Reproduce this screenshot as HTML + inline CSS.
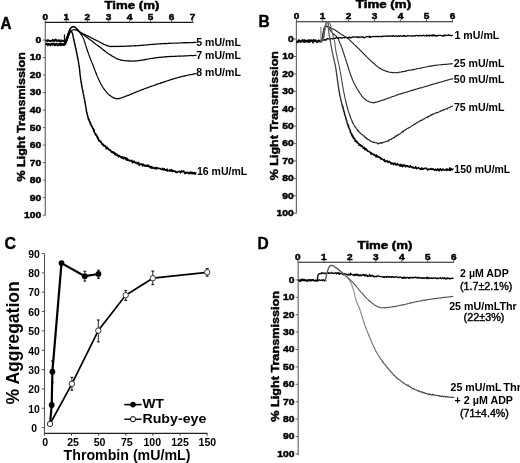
<!DOCTYPE html>
<html><head><meta charset="utf-8"><style>
html,body{margin:0;padding:0;background:#fff;width:520px;height:463px;overflow:hidden}
svg{filter:blur(0.35px)}
text{font-family:"Liberation Sans", sans-serif}
</style></head><body>
<svg width="520" height="463" viewBox="0 0 520 463" style="display:block">
<defs><linearGradient id="gDTA" gradientUnits="userSpaceOnUse" x1="0" y1="300" x2="0" y2="390"><stop offset="0" stop-color="#8c8c8c"/><stop offset="1" stop-color="#4a4a4a"/></linearGradient><linearGradient id="gB75" gradientUnits="userSpaceOnUse" x1="0" y1="30" x2="0" y2="130"><stop offset="0" stop-color="#666"/><stop offset="1" stop-color="#222"/></linearGradient><linearGradient id="gB150" gradientUnits="userSpaceOnUse" x1="0" y1="30" x2="0" y2="140"><stop offset="0" stop-color="#666"/><stop offset="1" stop-color="#000"/></linearGradient></defs>
<rect width="520" height="463" fill="#fff"/>
<g font-family="Liberation Sans, sans-serif">
<text x="0.5" y="28.7" font-size="15.6" font-weight="bold" text-anchor="start" fill="#000" stroke="#000" stroke-width="0.4" textLength="11" lengthAdjust="spacingAndGlyphs">A</text>
<line x1="44.8" y1="22.4" x2="193.3" y2="22.4" stroke="#1a1a1a" stroke-width="1.1"/>
<line x1="45.3" y1="20.4" x2="45.3" y2="22.4" stroke="#444" stroke-width="0.9"/>
<text x="45.3" y="19.5" font-size="8.4" font-weight="bold" text-anchor="middle" fill="#000" stroke="#000" stroke-width="0.45" textLength="5.6" lengthAdjust="spacingAndGlyphs">0</text>
<line x1="66.35" y1="20.4" x2="66.35" y2="22.4" stroke="#444" stroke-width="0.9"/>
<text x="66.35" y="19.5" font-size="8.4" font-weight="bold" text-anchor="middle" fill="#000" stroke="#000" stroke-width="0.45" textLength="5.6" lengthAdjust="spacingAndGlyphs">1</text>
<line x1="87.4" y1="20.4" x2="87.4" y2="22.4" stroke="#444" stroke-width="0.9"/>
<text x="87.4" y="19.5" font-size="8.4" font-weight="bold" text-anchor="middle" fill="#000" stroke="#000" stroke-width="0.45" textLength="5.6" lengthAdjust="spacingAndGlyphs">2</text>
<line x1="108.45" y1="20.4" x2="108.45" y2="22.4" stroke="#444" stroke-width="0.9"/>
<text x="108.45" y="19.5" font-size="8.4" font-weight="bold" text-anchor="middle" fill="#000" stroke="#000" stroke-width="0.45" textLength="5.6" lengthAdjust="spacingAndGlyphs">3</text>
<line x1="129.5" y1="20.4" x2="129.5" y2="22.4" stroke="#444" stroke-width="0.9"/>
<text x="129.5" y="19.5" font-size="8.4" font-weight="bold" text-anchor="middle" fill="#000" stroke="#000" stroke-width="0.45" textLength="5.6" lengthAdjust="spacingAndGlyphs">4</text>
<line x1="150.55" y1="20.4" x2="150.55" y2="22.4" stroke="#444" stroke-width="0.9"/>
<text x="150.55" y="19.5" font-size="8.4" font-weight="bold" text-anchor="middle" fill="#000" stroke="#000" stroke-width="0.45" textLength="5.6" lengthAdjust="spacingAndGlyphs">5</text>
<line x1="171.6" y1="20.4" x2="171.6" y2="22.4" stroke="#444" stroke-width="0.9"/>
<text x="171.6" y="19.5" font-size="8.4" font-weight="bold" text-anchor="middle" fill="#000" stroke="#000" stroke-width="0.45" textLength="5.6" lengthAdjust="spacingAndGlyphs">6</text>
<line x1="192.65" y1="20.4" x2="192.65" y2="22.4" stroke="#444" stroke-width="0.9"/>
<text x="192.65" y="19.5" font-size="8.4" font-weight="bold" text-anchor="middle" fill="#000" stroke="#000" stroke-width="0.45" textLength="5.6" lengthAdjust="spacingAndGlyphs">7</text>
<line x1="45.3" y1="22.4" x2="45.3" y2="215.6" stroke="#6a6a6a" stroke-width="1.2"/>
<line x1="42.7" y1="40" x2="45.3" y2="40" stroke="#6a6a6a" stroke-width="1"/>
<text x="41.2" y="42.9" font-size="8.5" font-weight="bold" text-anchor="end" fill="#000" stroke="#000" stroke-width="0.45" textLength="5.75" lengthAdjust="spacingAndGlyphs">0</text>
<line x1="42.7" y1="57.52" x2="45.3" y2="57.52" stroke="#6a6a6a" stroke-width="1"/>
<text x="41.2" y="60.42" font-size="8.5" font-weight="bold" text-anchor="end" fill="#000" stroke="#000" stroke-width="0.45" textLength="11.5" lengthAdjust="spacingAndGlyphs">10</text>
<line x1="42.7" y1="75.04" x2="45.3" y2="75.04" stroke="#6a6a6a" stroke-width="1"/>
<text x="41.2" y="77.94" font-size="8.5" font-weight="bold" text-anchor="end" fill="#000" stroke="#000" stroke-width="0.45" textLength="11.5" lengthAdjust="spacingAndGlyphs">20</text>
<line x1="42.7" y1="92.56" x2="45.3" y2="92.56" stroke="#6a6a6a" stroke-width="1"/>
<text x="41.2" y="95.46" font-size="8.5" font-weight="bold" text-anchor="end" fill="#000" stroke="#000" stroke-width="0.45" textLength="11.5" lengthAdjust="spacingAndGlyphs">30</text>
<line x1="42.7" y1="110.08" x2="45.3" y2="110.08" stroke="#6a6a6a" stroke-width="1"/>
<text x="41.2" y="112.98" font-size="8.5" font-weight="bold" text-anchor="end" fill="#000" stroke="#000" stroke-width="0.45" textLength="11.5" lengthAdjust="spacingAndGlyphs">40</text>
<line x1="42.7" y1="127.6" x2="45.3" y2="127.6" stroke="#6a6a6a" stroke-width="1"/>
<text x="41.2" y="130.5" font-size="8.5" font-weight="bold" text-anchor="end" fill="#000" stroke="#000" stroke-width="0.45" textLength="11.5" lengthAdjust="spacingAndGlyphs">50</text>
<line x1="42.7" y1="145.12" x2="45.3" y2="145.12" stroke="#6a6a6a" stroke-width="1"/>
<text x="41.2" y="148.02" font-size="8.5" font-weight="bold" text-anchor="end" fill="#000" stroke="#000" stroke-width="0.45" textLength="11.5" lengthAdjust="spacingAndGlyphs">60</text>
<line x1="42.7" y1="162.64" x2="45.3" y2="162.64" stroke="#6a6a6a" stroke-width="1"/>
<text x="41.2" y="165.54" font-size="8.5" font-weight="bold" text-anchor="end" fill="#000" stroke="#000" stroke-width="0.45" textLength="11.5" lengthAdjust="spacingAndGlyphs">70</text>
<line x1="42.7" y1="180.16" x2="45.3" y2="180.16" stroke="#6a6a6a" stroke-width="1"/>
<text x="41.2" y="183.06" font-size="8.5" font-weight="bold" text-anchor="end" fill="#000" stroke="#000" stroke-width="0.45" textLength="11.5" lengthAdjust="spacingAndGlyphs">80</text>
<line x1="42.7" y1="197.68" x2="45.3" y2="197.68" stroke="#6a6a6a" stroke-width="1"/>
<text x="41.2" y="200.58" font-size="8.5" font-weight="bold" text-anchor="end" fill="#000" stroke="#000" stroke-width="0.45" textLength="11.5" lengthAdjust="spacingAndGlyphs">90</text>
<line x1="42.7" y1="215.2" x2="45.3" y2="215.2" stroke="#6a6a6a" stroke-width="1"/>
<text x="41.2" y="218.1" font-size="8.5" font-weight="bold" text-anchor="end" fill="#000" stroke="#000" stroke-width="0.45" textLength="17.25" lengthAdjust="spacingAndGlyphs">100</text>
<text x="104.5" y="8.8" font-size="10.1" font-weight="bold" text-anchor="start" fill="#000" stroke="#000" stroke-width="0.45" textLength="54.8" lengthAdjust="spacingAndGlyphs">Time (m)</text>
<text x="24.6" y="181.6" font-size="11" font-weight="bold" text-anchor="start" fill="#000" stroke="#000" stroke-width="0.45" textLength="129.4" lengthAdjust="spacingAndGlyphs" transform="rotate(-90 24.6 181.6)">% Light Transmission</text>
<polyline points="45.6,40.16 46.2,40.58 46.8,40.18 47.4,40.13 48,39.79 48.6,40.18 49.2,40.91 49.8,40.53 50.4,40.87 51,40.44 51.6,40.52 52.2,40.4 52.8,39.38 53.4,40.77 54,40.58 54.6,40.57 55.2,39.37 55.8,39.34 56.4,39.81 57,40.04 57.6,40.47 58.2,40.27 58.8,40.59 59.4,39.95 60,40.47 60.6,40.52 61.2,39.94 61.8,41.24 62.4,40.61 63,40.96 63.6,39.96" fill="none" stroke="#000" stroke-width="1.3" stroke-linejoin="round"/>
<polyline points="45.6,40.59 46.2,40.81 46.8,40.94 47.4,41.35 48,41.14 48.6,40.75 49.2,40.47 49.8,40.71 50.4,41.67 51,40.56 51.6,41.13 52.2,41.23 52.8,40.18 53.4,41.03 54,41.72 54.6,39.89 55.2,40.82 55.8,40.94 56.4,40.55 57,41.27 57.6,40.97 58.2,40.19 58.8,41.46 59.4,41.37 60,41.52 60.6,41.79 61.2,41.2 61.8,41.07 62.4,40.29 63,41.34 63.6,40.66" fill="none" stroke="#000" stroke-width="1.2" stroke-linejoin="round"/>
<polyline points="45.6,44.53 46.2,44.04 46.8,44.22 47.4,44.48 48,45.57 48.6,43.58 49.2,43.93 49.8,44.94 50.4,45.67 51,45.15 51.6,43.66 52.2,43.29 52.8,45.01 53.4,44.36 54,44.13 54.6,45.39 55.2,45.46 55.8,44.89 56.4,44.95 57,45.06 57.6,45.76 58.2,45.17 58.8,45.11 59.4,45.13 60,43.86 60.6,45.57 61.2,45.37 61.8,45.12 62.4,43.62 63,44.42 63.6,45.31 64.2,43.71" fill="none" stroke="#000" stroke-width="1.4" stroke-linejoin="round"/>
<polyline points="45.6,43.79 46.2,44.51 46.8,43.11 47.4,44.87 48,44.23 48.6,43.81 49.2,44.09 49.8,44.29 50.4,43.97 51,44.59 51.6,43.5 52.2,43.65 52.8,44.53 53.4,43.92 54,43.37 54.6,44.47 55.2,44.78 55.8,43.63 56.4,43.07 57,43.82 57.6,43.81 58.2,43.72 58.8,44.74 59.4,43.28 60,44.66 60.6,43.14 61.2,43.43 61.8,44.28 62.4,44.58 63,44.42 63.6,44.11 64.2,43.99" fill="none" stroke="#000" stroke-width="1.3" stroke-linejoin="round"/>
<line x1="64.5" y1="45.5" x2="64.5" y2="34.4" stroke="#111" stroke-width="1.3"/>
<polyline points="63.6,41.02 64.22,41.59 64.8,41.78 65.08,41.6 65.33,41.19 65.56,40.57 65.8,40.08 66,39.63 66.2,39.31 66.4,38.65 66.6,38.06 66.8,37.54 67,37.04 67.2,36.59 67.38,35.97 67.55,35.53 67.72,35.14 67.89,34.16 68.06,33.76 68.24,33.35 68.42,32.84 68.61,32.31 68.8,31.76 69.02,31.33 69.25,30.76 69.49,30.15 69.73,29.94 69.98,29.26 70.23,28.73 70.5,28.39 70.86,27.94 71.24,27.57 71.62,26.99 72,26.95 72.54,26.83 73.1,26.48 73.79,26.65 74.5,27 74.93,27.25 75.35,27.67 75.78,27.74 76.2,28.26 76.66,28.68 77.11,29.2 77.57,29.68 78,29.73 78.35,30.5 78.67,30.64 79.02,31.25 79.5,31.45 79.81,31.84 80.15,32.17 80.52,32.27 80.93,32.54 81.36,32.85 81.82,33.03 82.3,33.26 82.8,33.68 83.31,33.89 83.83,34.02 84.36,34.59 84.9,34.47 85.43,34.94 85.97,35.1 86.5,35.41 86.91,35.68 87.33,35.85 87.76,36.11 88.19,36.12 88.64,36.35 89.09,36.8 89.55,36.87 90.01,37.1 90.48,37.29 90.95,37.8 91.43,37.99 91.91,38.3 92.39,38.3 92.87,38.64 93.36,38.77 93.84,39.2 94.32,39.52 94.81,39.51 95.29,39.99 95.77,40.17 96.24,40.28 96.71,40.33 97.18,40.9 97.64,40.97 98.1,41.14 98.58,41.48 99.06,41.72 99.53,42.07 100,42.07 100.46,42.54 100.93,42.82 101.39,43.07 101.85,43.16 102.31,43.35 102.77,43.77 103.23,43.93 103.69,44.16 104.15,44.52 104.62,44.58 105.09,44.59 105.56,44.99 106.04,45.03 106.52,45.49 107,45.61 107.5,45.67 107.99,45.87 108.5,46.08 108.97,46.11 109.45,46.32 109.94,46.26 110.43,46.44 110.92,46.53 111.41,46.59 111.91,46.39 112.41,46.57 112.92,46.31 113.43,46.4 113.94,46.31 114.45,46.61 114.96,46.37 115.48,46.48 116,46.45 116.51,46.45 117.03,46.37 117.56,46.43 118.08,46.57 118.6,46.37 119.12,46.4 119.64,46.43 120.16,46.3 120.68,46.18 121.2,46.24 121.7,46.4 122.19,46.13 122.69,46.23 123.18,46.38 123.66,46.35 124.15,46.26 124.64,46.33 125.12,46.26 125.61,46.11 126.09,46.06 126.58,46.13 127.07,46.27 127.56,46.11 128.06,46.05 128.56,46.05 129.06,45.95 129.57,46.07 130.08,45.94 130.6,46.07 131.12,45.77 131.65,46.02 132.19,45.89 132.73,45.73 133.29,45.97 133.85,45.84 134.42,45.61 135,45.71 135.43,45.8 135.86,45.7 136.3,45.8 136.74,45.76 137.18,45.72 137.63,45.66 138.08,45.73 138.54,45.62 138.99,45.57 139.46,45.28 139.92,45.54 140.39,45.54 140.86,45.34 141.34,45.28 141.82,45.48 142.3,45.07 142.78,45.25 143.27,45.4 143.76,45.02 144.25,45.14 144.75,45.22 145.24,44.97 145.75,44.99 146.25,44.98 146.75,44.76 147.26,44.79 147.77,44.79 148.29,44.79 148.8,44.66 149.32,44.6 149.84,44.47 150.36,44.49 150.88,44.57 151.41,44.45 151.93,44.31 152.46,44.26 152.99,44.57 153.52,44.37 154.05,44.28 154.59,43.92 155.13,44.2 155.66,44.14 156.2,44.22 156.74,44.06 157.28,43.97 157.82,43.99 158.37,43.71 158.91,43.97 159.45,43.87 160,43.73 160.46,43.91 160.91,43.93 161.37,43.58 161.84,43.63 162.3,43.7 162.77,43.66 163.24,43.58 163.71,43.5 164.19,43.79 164.66,43.65 165.14,43.41 165.62,43.37 166.1,43.65 166.58,43.56 167.07,43.62 167.56,43.5 168.05,43.31 168.54,43.4 169.03,43.14 169.52,43.26 170.02,43.31 170.52,43.34 171.01,43.2 171.51,43.24 172.01,43.28 172.51,43.25 173.02,43.26 173.52,43.2 174.03,43.13 174.53,43.22 175.04,43.13 175.55,43.02 176.06,43.02 176.57,43.07 177.08,43.04 177.59,43.05 178.1,43.01 178.61,43.01 179.13,42.97 179.64,42.84 180.15,42.99 180.67,43.03 181.18,42.95 181.7,42.88 182.21,42.92 182.73,42.76 183.24,42.65 183.76,42.83 184.27,42.72 184.79,42.87 185.3,42.67 185.82,42.5 186.33,42.64 186.85,42.88 187.36,42.67 187.87,42.55 188.39,42.6 188.9,42.71 189.41,42.69 189.92,42.64 190.43,42.75 190.95,42.66 191.46,42.57 191.96,42.61 192.47,42.7 192.98,42.61 193.49,42.6 193.99,42.37 194.49,42.44 195,42.51 195.5,42.39 196,42.51" fill="none" stroke="#000" stroke-width="1.2" stroke-linejoin="round" stroke-linecap="round"/>
<polyline points="63.6,44.46 64.21,44.68 64.8,44.58 65.12,44.58 65.4,43.99 65.67,43.27 65.93,42.66 66.2,42.26 66.38,41.54 66.56,41.21 66.74,40.73 66.92,40.13 67.1,39.48 67.29,39.09 67.47,38.57 67.65,38.11 67.83,37.56 68.02,36.98 68.2,36.59 68.4,36.05 68.59,35.51 68.79,34.99 68.98,34.46 69.17,34.07 69.37,33.43 69.58,33.03 69.78,32.68 70,32.15 70.35,31.71 70.69,31.07 71.07,30.79 71.5,30.56 72.02,30.26 72.61,29.96 73.21,29.77 73.8,29.56 74.31,29.88 74.81,29.81 75.31,29.98 75.8,29.91 76.29,30.14 76.76,30.17 77.24,30.65 77.7,30.89 78.13,30.84 78.54,31.27 78.98,31.61 79.5,31.72 79.79,31.92 80.11,32.22 80.44,32.5 80.8,32.68 81.18,33.1 81.57,33.41 81.98,33.75 82.4,34.08 82.83,34.48 83.27,34.78 83.72,34.87 84.18,35.3 84.64,35.59 85.1,35.94 85.57,36.39 86.04,36.75 86.5,37.15 86.87,37.21 87.24,37.53 87.62,37.93 88.01,38.21 88.4,38.49 88.79,38.81 89.2,39.04 89.6,39.49 90.02,39.77 90.43,40.03 90.85,40.29 91.27,40.66 91.7,40.72 92.12,41.22 92.55,41.64 92.98,41.81 93.41,42.3 93.84,42.62 94.27,42.79 94.7,43.23 95.14,43.55 95.56,43.95 95.99,44.28 96.42,44.54 96.84,44.77 97.27,45.16 97.68,45.48 98.1,45.87 98.51,46.14 98.92,46.35 99.34,46.6 99.75,47.02 100.17,47.3 100.58,47.59 101,48.01 101.41,48.3 101.83,48.68 102.24,49.05 102.66,49.28 103.07,49.88 103.49,49.94 103.9,50.4 104.32,50.62 104.73,51.04 105.14,51 105.55,51.47 105.96,51.88 106.37,52.22 106.78,52.69 107.19,52.79 107.59,53.17 108,53.4 108.4,53.7 108.8,53.93 109.2,54.13 109.6,54.45 110.07,54.6 110.54,55.12 111.01,55.2 111.48,55.62 111.94,56.1 112.4,56.15 112.86,56.46 113.32,56.85 113.78,57 114.24,57.18 114.7,57.54 115.15,57.82 115.61,58.08 116.06,58.16 116.52,58.63 116.97,58.83 117.43,58.87 117.89,59.08 118.34,59.19 118.8,59.54 119.31,59.5 119.81,59.79 120.32,59.81 120.83,59.91 121.33,60.16 121.84,60.32 122.34,60.27 122.85,60.29 123.35,60.51 123.86,60.48 124.37,60.58 124.87,60.75 125.38,60.77 125.89,60.65 126.39,60.98 126.9,60.8 127.4,60.93 127.88,60.83 128.35,60.93 128.82,60.8 129.28,61.18 129.74,61.17 130.2,60.94 130.67,60.93 131.15,60.93 131.64,61.22 132.14,61.05 132.67,61.09 133.21,61.05 133.78,61.05 134.37,60.93 135,61 135.37,60.83 135.74,60.94 136.13,60.94 136.52,60.92 136.93,60.81 137.34,60.69 137.75,60.75 138.18,60.63 138.61,60.78 139.05,60.64 139.5,60.48 139.95,60.38 140.41,60.29 140.88,60.19 141.35,60.17 141.83,60.16 142.31,60.1 142.8,60.03 143.29,60.1 143.79,59.73 144.3,59.71 144.8,59.9 145.32,59.35 145.83,59.39 146.35,59.37 146.88,59.28 147.41,59.21 147.94,59.05 148.47,59.02 149.01,58.9 149.55,58.87 150.09,58.52 150.63,58.52 151.18,58.52 151.73,58.33 152.27,58.24 152.82,58.32 153.38,58.1 153.93,58.15 154.48,58.07 155.03,57.95 155.59,57.89 156.14,57.75 156.7,57.55 157.25,57.61 157.8,57.59 158.35,57.43 158.9,57.41 159.45,57.43 160,57.21 160.45,57.32 160.91,57.4 161.37,57.11 161.83,57.14 162.3,57.07 162.77,57.2 163.24,57.04 163.71,57.06 164.18,56.86 164.66,56.89 165.13,56.86 165.61,56.65 166.09,56.93 166.58,56.85 167.06,56.55 167.55,56.77 168.04,56.65 168.53,56.68 169.02,56.64 169.52,56.42 170.01,56.52 170.51,56.67 171.01,56.43 171.5,56.36 172.01,56.3 172.51,56.29 173.01,56.42 173.51,56.53 174.02,56.38 174.53,56.34 175.03,56.51 175.54,56.22 176.05,56.18 176.56,56.28 177.07,56.26 177.58,56.08 178.09,56.04 178.61,56.16 179.12,56.14 179.63,55.96 180.15,56.05 180.66,56 181.18,56.08 181.69,56 182.21,55.98 182.72,55.94 183.24,56.06 183.75,56.07 184.27,55.88 184.78,55.98 185.3,55.8 185.81,55.86 186.33,55.91 186.84,55.96 187.36,55.75 187.87,55.76 188.39,55.77 188.9,55.58 189.41,55.71 189.92,55.62 190.43,55.7 190.94,55.53 191.45,55.42 191.96,55.6 192.47,55.6 192.98,55.49 193.48,55.61 193.99,55.47 194.49,55.42 195,55.5 195.5,55.27 196,55.33" fill="none" stroke="#000" stroke-width="1.2" stroke-linejoin="round" stroke-linecap="round"/>
<polyline points="63.6,41 64.22,41.62 64.8,41.78 65.08,41.61 65.33,41.06 65.56,40.6 65.8,40.17 66,39.5 66.2,39.34 66.4,38.55 66.6,38.1 66.8,37.59 67,37.14 67.2,36.38 67.38,35.8 67.55,35.55 67.72,35.03 67.89,34.48 68.06,34.13 68.24,33.35 68.42,32.83 68.61,32.38 68.8,31.84 69.02,31.43 69.25,30.61 69.49,30.17 69.73,29.36 69.98,29.31 70.23,28.75 70.5,28.49 70.86,28.18 71.24,27.58 71.62,27.23 72,26.95 72.54,26.64 73.1,26.54 73.79,26.72 74.5,26.9 74.93,27.17 75.35,27.5 75.78,28 76.2,28.35 76.66,28.69 77.12,29.18 77.57,29.53 78,29.88 78.33,30.54 78.64,30.85 78.94,31.13 79.25,31.8 79.6,32.23 79.84,32.39 80.1,33.07 80.37,33.32 80.66,33.77 80.95,34.11 81.24,34.5 81.54,34.8 81.84,35.52 82.14,35.91 82.43,36.39 82.72,36.98 83,37.51 83.17,37.94 83.34,38.22 83.51,38.65 83.68,38.86 83.84,39.46 84,40.01 84.16,40.53 84.33,40.82 84.49,41.32 84.64,41.97 84.8,42.27 84.96,42.88 85.12,43.48 85.28,43.82 85.43,44.46 85.59,44.78 85.75,45.4 85.9,45.89 86.06,46.43 86.22,47.06 86.38,47.71 86.54,47.92 86.7,48.45 86.86,49.07 87.03,49.42 87.19,50.08 87.36,50.59 87.53,50.99 87.7,51.55 87.88,51.83 88.05,52.55 88.23,52.81 88.41,53.38 88.59,53.87 88.77,54.37 88.96,54.98 89.14,55.39 89.32,55.82 89.51,56.39 89.69,56.98 89.88,57.3 90.06,57.82 90.25,58.38 90.44,58.77 90.62,59.09 90.81,59.95 91,60.4 91.19,60.46 91.38,61.13 91.57,61.66 91.76,62.2 91.95,62.65 92.14,63.04 92.33,63.44 92.52,64.04 92.71,64.62 92.9,64.89 93.08,65.36 93.26,65.93 93.45,66.21 93.63,66.86 93.81,67.32 94,67.88 94.18,68.25 94.37,68.72 94.55,69.25 94.74,69.77 94.92,70.19 95.11,70.75 95.29,71.3 95.48,71.83 95.67,72.37 95.85,72.6 96.04,73.11 96.23,73.38 96.42,74.29 96.6,74.5 96.79,75.04 96.98,75.55 97.17,75.82 97.36,76.46 97.55,76.86 97.74,77.12 97.93,77.76 98.12,78.28 98.31,78.4 98.5,79.08 98.73,79.52 98.96,80.05 99.19,80.53 99.42,81.1 99.64,81.42 99.87,82 100.09,82.33 100.31,82.91 100.54,83.2 100.77,83.72 101,84.35 101.23,84.66 101.47,85.03 101.71,85.36 101.96,85.83 102.21,86.35 102.47,86.84 102.74,87.21 103.02,87.64 103.3,88 103.59,88.55 103.89,88.79 104.19,89.19 104.5,89.75 104.81,90.08 105.13,90.46 105.46,90.83 105.78,91.27 106.12,91.76 106.46,92.13 106.8,92.36 107.14,92.9 107.49,93.25 107.84,93.49 108.2,94.02 108.55,94.25 108.91,94.58 109.27,95 109.64,95.35 110,95.43 110.45,95.88 110.9,96.07 111.36,96.71 111.82,96.73 112.29,97.19 112.76,97.28 113.23,97.68 113.71,98.06 114.2,97.8 114.69,98.2 115.18,98.45 115.68,98.53 116.19,98.57 116.7,98.92 117.16,98.73 117.61,98.56 118.07,98.77 118.53,98.45 118.99,98.65 119.46,98.37 119.93,98.32 120.4,98.28 120.88,98.01 121.37,97.69 121.86,97.48 122.36,97.58 122.87,97.34 123.39,96.99 123.91,96.96 124.45,96.74 125,96.56 125.41,96.14 125.82,96.19 126.24,96.16 126.66,95.99 127.09,95.85 127.52,95.35 127.96,95.44 128.4,95.3 128.85,95.33 129.3,94.79 129.76,94.67 130.22,94.52 130.68,94.41 131.15,94.08 131.62,94.05 132.1,93.65 132.57,93.56 133.06,93.28 133.54,93.14 134.03,92.85 134.51,92.56 135,92.62 135.5,92.33 135.99,92.04 136.49,91.91 136.99,91.79 137.49,91.39 137.99,91.27 138.49,91.14 138.99,90.94 139.5,90.66 140,90.29 140.44,90.46 140.89,90.2 141.34,90 141.79,89.8 142.24,89.68 142.7,89.44 143.16,89.21 143.62,89.06 144.09,88.9 144.55,88.73 145.02,88.5 145.49,88.51 145.97,88.14 146.44,88.16 146.92,87.82 147.39,87.78 147.87,87.71 148.36,87.41 148.84,87.14 149.32,87.05 149.8,86.88 150.29,86.52 150.78,86.46 151.26,86.36 151.75,86.12 152.24,86 152.72,85.9 153.21,85.73 153.7,85.57 154.19,85.36 154.68,85.1 155.16,84.96 155.65,84.76 156.14,84.59 156.62,84.44 157.11,84.11 157.59,84.09 158.08,83.95 158.56,83.69 159.04,83.62 159.52,83.51 160,83.28 160.49,83.34 160.97,82.71 161.46,82.79 161.95,82.46 162.45,82.57 162.94,82.57 163.43,81.89 163.92,81.99 164.42,81.86 164.91,81.62 165.41,81.54 165.9,81.09 166.4,81.24 166.9,81.02 167.39,80.82 167.89,80.6 168.38,80.56 168.88,80.29 169.37,80.2 169.87,79.96 170.36,79.63 170.86,79.69 171.35,79.56 171.84,79.46 172.33,79.14 172.82,79.07 173.31,78.99 173.8,78.79 174.29,78.75 174.77,78.68 175.26,78.25 175.74,78 176.22,78.14 176.7,78.07 177.18,77.87 177.65,77.72 178.13,77.45 178.6,77.31 179.07,77.34 179.54,77.03 180,76.82 180.52,76.76 181.04,76.98 181.56,76.8 182.07,76.41 182.59,76.28 183.1,76.26 183.6,76.05 184.11,76.14 184.61,75.89 185.12,75.68 185.62,75.81 186.11,75.52 186.61,75.5 187.11,75.37 187.6,75.24 188.1,75.21 188.59,75.01 189.08,74.79 189.58,74.66 190.07,74.66 190.56,74.61 191.05,74.59 191.54,74.5 192.04,74.46 192.53,74.32 193.02,74.13 193.52,74.04 194.01,73.8 194.51,73.89 195,73.86 195.5,73.76 196,73.59" fill="none" stroke="#000" stroke-width="1.2" stroke-linejoin="round" stroke-linecap="round"/>
<polyline points="63.6,44.38 64.01,44.63 64.42,44.64 64.8,44.69 65.03,44.49 65.24,44.17 65.44,43.95 65.63,43.31 65.82,42.88 66,42.36 66.2,41.9 66.34,41.86 66.48,41.53 66.63,40.95 66.77,40.63 66.91,40.3 67.05,39.85 67.2,39.48 67.34,38.76 67.48,38.42 67.62,38.13 67.77,37.84 67.91,37.28 68.06,36.77 68.2,36.46 68.36,36.01 68.53,35.56 68.69,35.42 68.86,34.75 69.03,34.41 69.19,34.26 69.36,33.76 69.52,33.29 69.68,32.83 69.84,32.63 70,32.49 70.25,31.93 70.5,31.58 70.75,31.14 71,31.06 71.34,31.15 71.67,31.66 72,32.36 72.11,32.26 72.21,32.69 72.31,33.02 72.41,33.24 72.51,33.61 72.6,34.11 72.69,34.63 72.78,34.87 72.87,35.24 72.96,35.45 73.05,36.3 73.14,36.52 73.23,36.96 73.32,37.29 73.41,37.88 73.51,38.21 73.6,38.81 73.7,39.31 73.8,39.7 73.88,40.08 73.96,40.3 74.04,40.94 74.13,41.06 74.21,41.29 74.3,41.86 74.38,42.17 74.47,42.53 74.56,42.99 74.65,43.46 74.74,43.68 74.82,44.21 74.91,44.79 75,45.11 75.09,45.41 75.18,45.86 75.27,46.23 75.36,46.65 75.45,47.16 75.54,47.47 75.63,47.61 75.72,48.31 75.81,48.62 75.9,49.22 75.99,49.48 76.07,49.98 76.16,50.63 76.25,50.66 76.33,51.05 76.42,51.43 76.5,51.71 76.58,52.16 76.66,52.82 76.74,53.09 76.82,53.33 76.9,53.76 76.98,54.4 77.06,54.62 77.14,55.06 77.22,55.53 77.3,56.04 77.38,56.5 77.46,56.78 77.54,57.06 77.62,57.46 77.7,58.04 77.78,58.39 77.86,58.57 77.93,59.06 78.01,59.43 78.08,59.79 78.16,60.12 78.24,60.42 78.31,60.91 78.38,61.19 78.45,61.92 78.53,62.23 78.6,62.43 78.67,63.14 78.74,63.48 78.8,63.55 78.87,64.41 78.94,64.69 79,65.25 79.06,65.24 79.12,65.84 79.17,66.22 79.23,66.59 79.28,66.97 79.33,67.47 79.38,67.56 79.42,67.98 79.47,68.36 79.51,68.85 79.56,69.24 79.6,69.75 79.64,70.13 79.69,70.5 79.73,70.82 79.77,71.24 79.81,71.81 79.85,72.19 79.89,72.51 79.93,72.87 79.97,73.5 80.02,73.64 80.06,74.2 80.1,74.67 80.15,74.91 80.19,75.45 80.24,75.63 80.29,76.3 80.34,76.62 80.39,76.83 80.44,77.52 80.49,77.75 80.55,78.44 80.61,78.63 80.67,79.12 80.73,79.6 80.8,79.96 80.86,80.4 80.92,80.68 80.98,81.21 81.04,81.51 81.11,81.92 81.17,81.95 81.24,82.8 81.3,83.06 81.37,83.23 81.44,83.85 81.51,84.29 81.58,84.76 81.66,84.9 81.73,85.61 81.81,85.81 81.88,86.52 81.96,86.62 82.03,87.12 82.11,87.4 82.19,87.72 82.27,88.39 82.35,88.78 82.43,89.26 82.51,89.59 82.59,89.82 82.67,90.1 82.75,90.63 82.83,91.04 82.91,91.44 82.99,92.01 83.07,92.39 83.16,92.73 83.24,93.19 83.32,93.56 83.4,94.02 83.48,94.49 83.57,94.92 83.65,95.13 83.73,95.44 83.81,96.2 83.89,96.44 83.97,96.96 84.05,97.03 84.13,97.59 84.21,98.03 84.29,98.26 84.37,98.76 84.45,99.3 84.52,99.74 84.6,100.19 84.68,100.31 84.76,100.66 84.84,101.31 84.91,101.77 84.99,102.1 85.07,102.35 85.14,103.02 85.22,103.45 85.29,103.84 85.37,104.14 85.44,104.67 85.51,105.15 85.59,105.42 85.66,105.69 85.74,106.38 85.81,106.82 85.88,107.19 85.96,107.72 86.03,107.68 86.1,108.41 86.18,108.7 86.25,109.64 86.33,110.67 86.4,109.98 86.48,111.78 86.56,111.87 86.63,111.84 86.71,112.12 86.79,113.23 86.87,112.46 86.95,112.89 87.03,112.71 87.11,114.02 87.2,114.93 87.28,114.82 87.37,115.13 87.45,115.12 87.54,115.71 87.63,115.11 87.72,116.95 87.82,116.42 87.91,116.35 88,116.9 88.1,117.18 88.2,118.51 88.34,119.09 88.49,118.08 88.63,119.87 88.78,120.25 88.92,119.77 89.07,119.61 89.22,120.43 89.37,120.86 89.52,121.81 89.68,121.75 89.84,121.1 90,122.81 90.16,122.1 90.33,123.91 90.5,123 90.67,123.67 90.85,123.93 91.03,124.49 91.21,125.98 91.4,126.1 91.6,126.35 91.8,126.59 91.96,125.8 92.12,126.74 92.28,127.06 92.44,127.15 92.6,128.39 92.77,127.99 92.94,128.36 93.11,128.52 93.28,128.28 93.46,130.24 93.63,131.05 93.81,130.73 93.99,130.41 94.18,129.75 94.36,131.85 94.55,132.86 94.74,132.69 94.93,133.45 95.12,134.16 95.32,134.33 95.52,133.76 95.72,135.04 95.92,135.25 96.13,134.23 96.33,135.29 96.54,135.04 96.75,136.2 96.97,136.98 97.19,136.35 97.4,136.11 97.62,138.48 97.85,138.27 98.07,139.27 98.3,137.93 98.53,139.69 98.76,140.63 99,140.9 99.25,139.9 99.49,140.51 99.74,140.57 99.99,141.58 100.25,141.91 100.51,141.65 100.76,141.08 101.02,142.65 101.29,142.22 101.55,143.17 101.82,143.25 102.09,144.36 102.37,144.35 102.64,143.69 102.92,144.45 103.2,145.58 103.48,144.48 103.77,145.34 104.05,146.07 104.35,146.38 104.64,146.21 104.93,145.38 105.23,145.68 105.53,146.85 105.84,147.2 106.14,148.76 106.45,146.98 106.77,148.44 107.08,148.48 107.4,147.27 107.72,148.04 108.04,148.89 108.37,148.75 108.7,149.21 109,149.81 109.31,149.28 109.62,150.27 109.93,149.84 110.25,150.12 110.56,150.99 110.88,150.55 111.21,151.28 111.53,152.29 111.86,151.57 112.19,151.68 112.52,152.42 112.86,151.98 113.19,153.06 113.53,151.85 113.87,153.2 114.22,152.73 114.56,152.77 114.91,154.51 115.26,153.15 115.61,154.91 115.96,154.46 116.32,155.13 116.68,153.88 117.04,155.38 117.4,155.73 117.76,154.99 118.12,155.17 118.49,156.92 118.86,155.74 119.23,155.58 119.6,155.64 119.97,156.48 120.35,156.6 120.72,156.7 121.1,157.81 121.48,156.77 121.85,157.43 122.24,158.21 122.62,156.91 123,158.32 123.34,158.96 123.69,157.21 124.04,157.53 124.39,157.72 124.74,157.4 125.1,158.94 125.46,157.71 125.81,159.28 126.17,160.01 126.54,158.33 126.9,159.26 127.26,158.45 127.63,160.23 128,159.47 128.37,159.9 128.74,160.25 129.11,160.69 129.49,160.3 129.86,160.67 130.24,160.48 130.62,161.02 131,160.4 131.38,161.28 131.76,160.23 132.14,161.24 132.52,162.82 132.91,161.86 133.29,161.2 133.68,162.25 134.06,161.65 134.45,161.38 134.84,162.06 135.23,163.08 135.62,163 136.01,162.85 136.4,162.48 136.79,162.52 137.18,164.11 137.58,163.57 137.97,162.99 138.36,162.42 138.76,162.99 139.15,165.42 139.54,163.37 139.94,164.14 140.33,164.43 140.72,164.33 141.12,164.38 141.51,163.84 141.91,164.15 142.3,165.91 142.68,164.56 143.06,165.63 143.44,164.21 143.81,165.17 144.19,165.6 144.57,166.17 144.95,164.98 145.33,166.11 145.7,166.09 146.08,165.52 146.46,166.35 146.84,165.62 147.22,165.78 147.6,166.34 147.98,164.82 148.36,166.48 148.74,166.04 149.12,165.85 149.5,166.57 149.88,167.37 150.26,166.76 150.65,167.85 151.03,166.48 151.41,166.48 151.8,168.29 152.19,167.68 152.57,168.09 152.96,167.11 153.35,168.18 153.74,167.93 154.13,168.25 154.53,167.96 154.92,168.75 155.32,167.72 155.71,167.61 156.11,167.38 156.51,169.04 156.91,167.98 157.31,167.87 157.72,168.01 158.12,168.39 158.53,167.97 158.94,168.63 159.35,168.51 159.76,168.63 160.18,168.46 160.59,169.13 161.01,168.91 161.43,169.33 161.85,169.48 162.28,169.61 162.71,168.17 163.14,169.23 163.57,169.15 164,170.16 164.36,168.81 164.72,169.39 165.09,169.7 165.46,169.73 165.82,170.59 166.19,169.78 166.57,170.69 166.94,169.28 167.32,169.13 167.69,171 168.07,170.59 168.45,170.67 168.83,170.5 169.22,170.77 169.6,169.8 169.99,171.15 170.38,170.32 170.77,171.28 171.16,170.79 171.55,169.6 171.94,170.06 172.34,171.56 172.73,170.85 173.13,170.74 173.53,171.17 173.92,170.82 174.32,170.79 174.73,171.22 175.13,171.3 175.53,172.16 175.93,171.33 176.34,172.47 176.74,172.47 177.15,172.46 177.56,172.11 177.96,171.6 178.37,171.65 178.78,171.52 179.19,171.21 179.6,171.65 180.01,171.35 180.42,172.76 180.83,172.14 181.24,171.59 181.65,170.75 182.07,171.91 182.48,171.74 182.89,171.38 183.3,171.39 183.72,170.76 184.13,172.5 184.54,172.16 184.96,173.79 185.37,172.26 185.78,172.23 186.2,173.23 186.61,172.48 187.02,172.55 187.44,172.26 187.85,172.17 188.26,173.47 188.67,173.21 189.09,173.68 189.5,172.49 189.91,172.76 190.32,172.25 190.73,173.4 191.14,172.03 191.55,173.25 191.96,173.61 192.36,173.84 192.77,172.48 193.18,173.74 193.58,172.7 193.99,172.72 194.39,172.42 194.8,173.96 195.2,174.3 195.6,173 196,172.94" fill="none" stroke="#000" stroke-width="1.45" stroke-linejoin="round" stroke-linecap="round"/>
<text x="196.3" y="45.8" font-size="10.3" font-weight="bold" text-anchor="start" fill="#000" textLength="44.6" lengthAdjust="spacingAndGlyphs">5 mU/mL</text>
<text x="196.3" y="58.9" font-size="10.3" font-weight="bold" text-anchor="start" fill="#000" textLength="44.6" lengthAdjust="spacingAndGlyphs">7 mU/mL</text>
<text x="196.3" y="76.4" font-size="10.3" font-weight="bold" text-anchor="start" fill="#000" textLength="44.6" lengthAdjust="spacingAndGlyphs">8 mU/mL</text>
<text x="197" y="175" font-size="10.3" font-weight="bold" text-anchor="start" fill="#000" textLength="50.2" lengthAdjust="spacingAndGlyphs">16 mU/mL</text>
<text x="258.4" y="26.6" font-size="15.6" font-weight="bold" text-anchor="start" fill="#000" stroke="#000" stroke-width="0.4" textLength="11.2" lengthAdjust="spacingAndGlyphs">B</text>
<line x1="295.9" y1="21.7" x2="452.8" y2="21.7" stroke="#1a1a1a" stroke-width="1.1"/>
<line x1="296.5" y1="19.7" x2="296.5" y2="21.7" stroke="#444" stroke-width="0.9"/>
<text x="296.5" y="18.8" font-size="8.4" font-weight="bold" text-anchor="middle" fill="#000" stroke="#000" stroke-width="0.45" textLength="5.6" lengthAdjust="spacingAndGlyphs">0</text>
<line x1="322.5" y1="19.7" x2="322.5" y2="21.7" stroke="#444" stroke-width="0.9"/>
<text x="322.5" y="18.8" font-size="8.4" font-weight="bold" text-anchor="middle" fill="#000" stroke="#000" stroke-width="0.45" textLength="5.6" lengthAdjust="spacingAndGlyphs">1</text>
<line x1="348.5" y1="19.7" x2="348.5" y2="21.7" stroke="#444" stroke-width="0.9"/>
<text x="348.5" y="18.8" font-size="8.4" font-weight="bold" text-anchor="middle" fill="#000" stroke="#000" stroke-width="0.45" textLength="5.6" lengthAdjust="spacingAndGlyphs">2</text>
<line x1="374.5" y1="19.7" x2="374.5" y2="21.7" stroke="#444" stroke-width="0.9"/>
<text x="374.5" y="18.8" font-size="8.4" font-weight="bold" text-anchor="middle" fill="#000" stroke="#000" stroke-width="0.45" textLength="5.6" lengthAdjust="spacingAndGlyphs">3</text>
<line x1="400.5" y1="19.7" x2="400.5" y2="21.7" stroke="#444" stroke-width="0.9"/>
<text x="400.5" y="18.8" font-size="8.4" font-weight="bold" text-anchor="middle" fill="#000" stroke="#000" stroke-width="0.45" textLength="5.6" lengthAdjust="spacingAndGlyphs">4</text>
<line x1="426.5" y1="19.7" x2="426.5" y2="21.7" stroke="#444" stroke-width="0.9"/>
<text x="426.5" y="18.8" font-size="8.4" font-weight="bold" text-anchor="middle" fill="#000" stroke="#000" stroke-width="0.45" textLength="5.6" lengthAdjust="spacingAndGlyphs">5</text>
<line x1="452.5" y1="19.7" x2="452.5" y2="21.7" stroke="#444" stroke-width="0.9"/>
<text x="452.5" y="18.8" font-size="8.4" font-weight="bold" text-anchor="middle" fill="#000" stroke="#000" stroke-width="0.45" textLength="5.6" lengthAdjust="spacingAndGlyphs">6</text>
<line x1="296.4" y1="21.7" x2="296.4" y2="213.6" stroke="#6a6a6a" stroke-width="1.2"/>
<line x1="293.8" y1="39.1" x2="296.4" y2="39.1" stroke="#6a6a6a" stroke-width="1"/>
<text x="293.8" y="42" font-size="8.5" font-weight="bold" text-anchor="end" fill="#000" stroke="#000" stroke-width="0.45" textLength="5.75" lengthAdjust="spacingAndGlyphs">0</text>
<line x1="293.8" y1="56.51" x2="296.4" y2="56.51" stroke="#6a6a6a" stroke-width="1"/>
<text x="293.8" y="59.41" font-size="8.5" font-weight="bold" text-anchor="end" fill="#000" stroke="#000" stroke-width="0.45" textLength="11.5" lengthAdjust="spacingAndGlyphs">10</text>
<line x1="293.8" y1="73.92" x2="296.4" y2="73.92" stroke="#6a6a6a" stroke-width="1"/>
<text x="293.8" y="76.82" font-size="8.5" font-weight="bold" text-anchor="end" fill="#000" stroke="#000" stroke-width="0.45" textLength="11.5" lengthAdjust="spacingAndGlyphs">20</text>
<line x1="293.8" y1="91.33" x2="296.4" y2="91.33" stroke="#6a6a6a" stroke-width="1"/>
<text x="293.8" y="94.23" font-size="8.5" font-weight="bold" text-anchor="end" fill="#000" stroke="#000" stroke-width="0.45" textLength="11.5" lengthAdjust="spacingAndGlyphs">30</text>
<line x1="293.8" y1="108.74" x2="296.4" y2="108.74" stroke="#6a6a6a" stroke-width="1"/>
<text x="293.8" y="111.64" font-size="8.5" font-weight="bold" text-anchor="end" fill="#000" stroke="#000" stroke-width="0.45" textLength="11.5" lengthAdjust="spacingAndGlyphs">40</text>
<line x1="293.8" y1="126.15" x2="296.4" y2="126.15" stroke="#6a6a6a" stroke-width="1"/>
<text x="293.8" y="129.05" font-size="8.5" font-weight="bold" text-anchor="end" fill="#000" stroke="#000" stroke-width="0.45" textLength="11.5" lengthAdjust="spacingAndGlyphs">50</text>
<line x1="293.8" y1="143.56" x2="296.4" y2="143.56" stroke="#6a6a6a" stroke-width="1"/>
<text x="293.8" y="146.46" font-size="8.5" font-weight="bold" text-anchor="end" fill="#000" stroke="#000" stroke-width="0.45" textLength="11.5" lengthAdjust="spacingAndGlyphs">60</text>
<line x1="293.8" y1="160.97" x2="296.4" y2="160.97" stroke="#6a6a6a" stroke-width="1"/>
<text x="293.8" y="163.87" font-size="8.5" font-weight="bold" text-anchor="end" fill="#000" stroke="#000" stroke-width="0.45" textLength="11.5" lengthAdjust="spacingAndGlyphs">70</text>
<line x1="293.8" y1="178.38" x2="296.4" y2="178.38" stroke="#6a6a6a" stroke-width="1"/>
<text x="293.8" y="181.28" font-size="8.5" font-weight="bold" text-anchor="end" fill="#000" stroke="#000" stroke-width="0.45" textLength="11.5" lengthAdjust="spacingAndGlyphs">80</text>
<line x1="293.8" y1="195.79" x2="296.4" y2="195.79" stroke="#6a6a6a" stroke-width="1"/>
<text x="293.8" y="198.69" font-size="8.5" font-weight="bold" text-anchor="end" fill="#000" stroke="#000" stroke-width="0.45" textLength="11.5" lengthAdjust="spacingAndGlyphs">90</text>
<line x1="293.8" y1="213.2" x2="296.4" y2="213.2" stroke="#6a6a6a" stroke-width="1"/>
<text x="293.8" y="216.1" font-size="8.5" font-weight="bold" text-anchor="end" fill="#000" stroke="#000" stroke-width="0.45" textLength="17.25" lengthAdjust="spacingAndGlyphs">100</text>
<text x="355.8" y="7.6" font-size="10.1" font-weight="bold" text-anchor="start" fill="#000" stroke="#000" stroke-width="0.45" textLength="55.3" lengthAdjust="spacingAndGlyphs">Time (m)</text>
<text x="278" y="180.3" font-size="11" font-weight="bold" text-anchor="start" fill="#000" stroke="#000" stroke-width="0.45" textLength="129.3" lengthAdjust="spacingAndGlyphs" transform="rotate(-90 278 180.3)">% Light Transmission</text>
<polyline points="297,40.8 297.5,42.5 298,41.6 298.5,40.67 299,39.92 299.5,40.6 300,41.71 300.5,42.12 301,40.84 301.5,40.59 302,40.69 302.5,39.87 303,41.54 303.5,40.35 304,41.64 304.5,39.98 305,40.24 305.5,41.17 306,40.54 306.5,41.47 307,41 307.5,40.3 308,41.37 308.5,41.51 309,39.85 309.5,42.1 310,41.3 310.5,41.46 311,39.88 311.5,40.57 312,40.79 312.5,41.65 313,40.12 313.5,40.47 314,39.78 314.5,40.86 315,41.21 315.5,39.99 316,40.65 316.5,41.31 317,41.95 317.5,41.4 318,40.82 318.5,40.29 319,40.44 319.5,40.6 320,41.09 320.5,40.97 321,42" fill="none" stroke="#000" stroke-width="1.6" stroke-linejoin="round"/>
<polyline points="297,41.74 297.5,41.06 298,42.37 298.5,42.07 299,41.65 299.5,41.24 300,40.66 300.5,41.09 301,42.06 301.5,41.2 302,40.94 302.5,41.7 303,41.72 303.5,41.9 304,41.93 304.5,42.3 305,41.18 305.5,42.09 306,41.11 306.5,41.95 307,41.69 307.5,41.72 308,42.08 308.5,41.59 309,42.16 309.5,42.04 310,41.67 310.5,41.32 311,41.22 311.5,41.34 312,41.5 312.5,41.59 313,43.09 313.5,41.92 314,41.98 314.5,41.17 315,41.24 315.5,41.44 316,41.7 316.5,41.08 317,42.41 317.5,41.32 318,42.14 318.5,40.43 319,41.6 319.5,41.74 320,41.7 320.5,41.9 321,41.74" fill="none" stroke="#111" stroke-width="1.2" stroke-linejoin="round"/>
<line x1="320.9" y1="42.6" x2="320.9" y2="27.1" stroke="#888" stroke-width="1.2"/>
<polyline points="321,41.56 321.45,40.58 321.87,40.73 322.29,39.9 322.74,40.68 323.23,40.33 323.8,39.93 324.17,39.59 324.57,39.57 325,40.31 325.46,40.17 325.93,39.44 326.43,39.82 326.93,38.73 327.46,38.52 327.99,38.95 328.52,38.74 329.06,38.78 329.6,38.97 330.14,39.9 330.67,38.55 331.19,38.73 331.71,38.75 332.2,38.59 332.73,38.87 333.25,39.11 333.77,38.02 334.29,38.47 334.81,38.29 335.33,38.47 335.85,37.79 336.37,37.68 336.89,37.46 337.4,38.43 337.92,38.29 338.44,38.22 338.96,37.34 339.48,38.01 340,37.84 340.49,37.57 340.97,37.7 341.44,38.22 341.9,38.12 342.36,37.88 342.82,38.02 343.28,37.58 343.75,37.77 344.22,37.72 344.7,37.85 345.2,37.59 345.72,37.51 346.25,37.47 346.81,37.25 347.39,38.22 348,37.58 348.38,37.53 348.77,38.16 349.17,37.83 349.58,36.77 350,37.54 350.42,37.57 350.86,37.92 351.3,37.7 351.75,37.49 352.21,36.79 352.67,36.88 353.14,37.26 353.62,37.33 354.11,36.77 354.59,36.98 355.09,36.96 355.59,37.11 356.1,37.19 356.6,36.95 357.12,36.61 357.64,37.46 358.16,37.57 358.68,36.96 359.21,37.34 359.75,37.12 360.28,37.18 360.82,37.11 361.35,36.66 361.89,37.11 362.44,37.25 362.98,36.57 363.52,37.56 364.07,37.59 364.61,37.48 365.15,37.53 365.7,37.08 366.24,36.68 366.78,36.58 367.32,36.49 367.86,36.8 368.4,36.73 368.94,36.96 369.47,36.01 370,37.51 370.48,37.48 370.95,36.66 371.43,36.9 371.91,36.81 372.39,36.73 372.87,36.54 373.36,36.56 373.84,36.3 374.33,36.64 374.81,36.55 375.3,36.66 375.79,36.24 376.28,36.54 376.77,36.52 377.27,36.71 377.76,36.11 378.26,36.61 378.75,36.8 379.25,36.65 379.75,36.3 380.25,36.24 380.75,36.32 381.25,36.64 381.75,36.91 382.26,36.3 382.76,36.12 383.26,36.46 383.77,36.39 384.28,35.99 384.79,36.03 385.29,36.24 385.8,36.5 386.31,35.84 386.82,35.88 387.34,36.4 387.85,35.79 388.36,36.24 388.88,36.31 389.39,36.14 389.91,35.81 390.42,36.13 390.94,36.03 391.45,36.25 391.97,35.82 392.49,36.49 393.01,35.51 393.53,36.02 394.05,36.08 394.57,36.4 395.09,35.84 395.61,36.23 396.13,35.83 396.65,36.28 397.18,36.62 397.7,35.86 398.19,36.15 398.68,35.66 399.17,36.31 399.66,36.39 400.16,35.97 400.66,35.55 401.16,36.08 401.66,36.33 402.16,36.3 402.67,36.2 403.18,35.27 403.69,35.66 404.2,36.39 404.71,35.45 405.22,36.27 405.74,36.53 406.25,36.13 406.77,36.24 407.29,35.73 407.81,35.41 408.33,35.79 408.85,35.75 409.37,35.8 409.89,36.05 410.41,35.75 410.93,35.86 411.45,35.94 411.98,35.78 412.5,36.42 413.02,35.93 413.54,35.79 414.06,35.69 414.58,35.53 415.1,36.22 415.62,35.79 416.14,35.36 416.66,35.53 417.18,35.67 417.69,35.56 418.21,36.09 418.72,35.3 419.24,35.87 419.75,35.75 420.26,35.28 420.77,35.7 421.27,35.65 421.78,35.85 422.28,35.51 422.78,35.77 423.28,35.08 423.78,35.28 424.27,35.93 424.77,36.01 425.26,35.64 425.74,35.43 426.23,36.01 426.71,34.9 427.19,35.34 427.67,35.86 428.14,35.84 428.61,35.25 429.08,34.95 429.54,36.11 430,35.65 430.55,35.28 431.1,35.61 431.65,35.9 432.19,34.68 432.73,35.97 433.26,35.83 433.79,34.84 434.32,35.84 434.85,34.94 435.37,35.96 435.89,35.7 436.4,36.35 436.92,35.34 437.43,35.55 437.94,35.92 438.45,35.32 438.95,35.3 439.46,35.41 439.96,35.52 440.46,35.16 440.96,35.71 441.46,35.73 441.95,35.56 442.45,36.13 442.94,35.42 443.44,35.99 443.93,35.34 444.43,35.79 444.92,34.85 445.41,35.59 445.91,35.46 446.4,35.35 446.9,35.31 447.39,35.4 447.89,35.26 448.38,34.75 448.88,35.3 449.38,35.32 449.88,35.33 450.38,35.14 450.88,35.46 451.39,35.78 451.89,35.41 452.4,35.33" fill="none" stroke="#000" stroke-width="1.2" stroke-linejoin="round" stroke-linecap="round"/>
<polyline points="321.5,41.66 321.63,41.13 321.77,40.65 321.91,40.21 322.04,39.55 322.17,39.05 322.3,38.63 322.38,38.01 322.46,37.61 322.54,37.19 322.61,36.69 322.68,36.09 322.75,35.71 322.82,35.03 322.9,34.6 322.97,34.11 323.05,33.54 323.13,33.04 323.21,32.32 323.3,31.84 323.42,31.33 323.53,30.86 323.65,30.4 323.77,29.5 323.91,29.14 324.05,28.49 324.21,28.03 324.4,27.67 324.67,27.26 324.97,26.73 325.31,26.48 325.7,25.98 326.21,26.16 326.8,26.28 327.41,26.39 328,26.66 328.54,26.76 329.05,26.96 329.59,27.33 330.2,27.62 330.59,28.23 331.02,28.03 331.47,28.49 331.95,28.53 332.45,28.76 332.95,29.04 333.46,29.09 333.96,29.54 334.46,29.73 334.94,29.76 335.4,30.27 335.84,30.54 336.28,30.82 336.71,31.26 337.14,31.33 337.57,31.76 337.99,32.11 338.41,32.23 338.81,32.79 339.22,32.77 339.61,33.08 340,33.56 340.48,33.68 340.93,34.09 341.37,34.18 341.81,34.65 342.25,34.78 342.71,35.24 343.2,35.32 343.61,35.81 344.05,35.99 344.5,36.31 344.97,36.59 345.45,36.9 345.92,37.02 346.38,37.17 346.83,37.77 347.25,37.94 347.65,38.28 348,38.65 348.45,38.74 348.82,39.23 349.16,39.59 349.54,39.92 350,40.54 350.28,40.74 350.58,40.94 350.9,41.22 351.25,41.75 351.61,41.91 351.98,42.41 352.37,42.75 352.78,42.84 353.19,43.31 353.6,43.83 354.03,44.26 354.45,44.7 354.88,45.1 355.3,45.52 355.72,45.74 356.13,46.15 356.53,46.65 356.92,46.88 357.3,47.43 357.68,47.48 358.06,48.12 358.43,48.4 358.8,48.55 359.17,49.28 359.54,49.58 359.91,49.92 360.28,50.16 360.64,50.61 361.01,51.23 361.37,51.32 361.73,51.38 362.1,52.06 362.46,52.39 362.82,52.89 363.18,53.23 363.54,53.53 363.9,53.9 364.26,54.49 364.61,54.54 364.96,55.31 365.3,55.35 365.64,55.63 365.97,56.21 366.31,56.52 366.65,56.67 366.99,57.23 367.33,57.27 367.68,57.72 368.04,58.32 368.41,58.51 368.79,58.74 369.18,59.32 369.58,59.73 370,60 370.33,60.08 370.67,60.56 371.02,60.97 371.37,61.33 371.73,61.79 372.1,61.87 372.47,62.18 372.85,62.58 373.23,63.07 373.62,63.17 374.01,63.79 374.41,63.65 374.81,64.43 375.21,64.6 375.62,65.08 376.03,65.46 376.45,65.57 376.86,66.04 377.28,66.41 377.7,66.78 378.12,66.91 378.54,67.22 378.97,67.4 379.39,68.23 379.81,68.18 380.24,68.45 380.66,68.55 381.08,69.08 381.5,69.14 381.96,69.61 382.42,69.77 382.88,69.9 383.34,70.2 383.81,70.18 384.27,70.48 384.74,70.64 385.21,70.74 385.68,71.08 386.15,71.23 386.62,71.58 387.1,71.15 387.58,71.62 388.06,71.73 388.55,71.91 389.03,72.13 389.53,72.24 390.02,72.29 390.53,72.32 391.03,72.52 391.54,72.58 392.06,72.38 392.58,72.62 393.1,72.54 393.56,72.59 394.02,72.76 394.49,72.76 394.96,72.76 395.43,72.63 395.9,72.69 396.38,72.57 396.86,72.68 397.34,72.67 397.83,72.74 398.31,72.62 398.8,72.3 399.3,72.27 399.79,72.13 400.29,72.19 400.8,72.3 401.3,72.05 401.81,71.61 402.32,71.62 402.83,71.51 403.35,71.62 403.87,71.45 404.39,71.38 404.91,71.45 405.44,71.02 405.97,70.91 406.5,71.14 407.03,70.84 407.57,70.6 408.11,70.35 408.65,70.31 409.2,70.11 409.65,70.33 410.1,70.25 410.56,70.28 411.03,70.06 411.49,69.9 411.96,69.8 412.43,70.03 412.91,69.49 413.39,69.63 413.87,69.52 414.36,69.49 414.85,69.26 415.34,69.27 415.83,69.2 416.32,68.98 416.82,68.84 417.32,68.76 417.82,68.56 418.32,68.55 418.82,68.43 419.32,68.38 419.83,68.41 420.33,68.29 420.84,67.97 421.35,67.99 421.85,67.84 422.36,67.79 422.87,67.59 423.38,67.52 423.88,67.32 424.39,67.18 424.89,67.27 425.4,67.22 425.9,67.04 426.41,66.91 426.91,66.79 427.41,66.61 427.91,66.35 428.4,66.55 428.9,66.4 429.39,66.22 429.88,66.09 430.37,66.27 430.86,65.82 431.34,66.16 431.82,65.95 432.3,66.08 432.82,65.64 433.33,65.64 433.85,65.51 434.36,65.52 434.87,65.4 435.38,65.27 435.89,65.43 436.4,65.14 436.91,65.11 437.41,65.18 437.92,64.99 438.42,64.94 438.93,64.98 439.43,64.84 439.93,64.68 440.43,64.76 440.93,64.7 441.43,64.88 441.93,64.49 442.43,64.69 442.93,64.43 443.42,64.44 443.92,64.39 444.42,64.42 444.92,64.44 445.41,64.5 445.91,64.17 446.41,64.36 446.91,64.27 447.4,64.2 447.9,63.96 448.4,64.12 448.9,63.95 449.4,63.95 449.9,63.83 450.4,63.89 450.9,63.89 451.4,63.84 451.9,63.63 452.4,63.72" fill="none" stroke="#222" stroke-width="1.1" stroke-linejoin="round" stroke-linecap="round"/>
<polyline points="321.5,41.67 321.63,40.9 321.77,40.72 321.91,39.91 322.04,39.65 322.17,39.14 322.3,38.68 322.38,38.11 322.46,37.57 322.54,37.05 322.61,36.49 322.68,36.21 322.75,35.56 322.82,34.97 322.9,34.58 322.97,33.89 323.05,33.4 323.13,32.89 323.21,32.66 323.3,32.18 323.42,31.38 323.53,30.61 323.64,30.23 323.75,29.63 323.88,29.12 324.03,28.63 324.2,28.06 324.4,27.81 324.72,27.31 325.08,26.81 325.47,26.41 325.9,26.24 326.34,26.41 326.82,26.37 327.33,26.76 327.83,27.04 328.3,27.33 328.65,27.9 328.97,28.22 329.28,28.66 329.59,29.22 329.9,29.41 330.22,30.07 330.55,30.58 330.9,31.1 331.23,31.26 331.57,31.86 331.93,32.2 332.3,32.73 332.67,33.09 333.04,33.41 333.41,33.98 333.78,34.09 334.15,34.4 334.5,34.76 334.93,35.08 335.37,35.55 335.81,35.66 336.24,36.21 336.65,36.63 337.04,37.08 337.4,37.36 337.66,37.95 337.9,38.12 338.12,38.61 338.33,38.86 338.53,39.46 338.72,39.93 338.91,40.69 339.1,41.07 339.29,41.38 339.5,42.06 339.7,42.52 339.89,42.9 340.09,43.4 340.29,43.83 340.48,44.28 340.68,44.61 340.88,45.3 341.07,45.97 341.28,46.51 341.48,46.84 341.69,47.34 341.9,47.98 342.05,48.51 342.19,48.85 342.34,49.16 342.49,49.69 342.63,50.06 342.78,50.58 342.93,50.91 343.08,51.24 343.24,51.88 343.39,52.42 343.54,52.67 343.7,53.27 343.86,53.86 344.01,54.2 344.17,54.66 344.34,55.47 344.5,55.84 344.66,56.37 344.83,56.65 345,57.47 345.17,57.61 345.35,58.27 345.52,58.95 345.7,59.56 345.84,59.71 345.98,60.17 346.12,60.7 346.26,60.9 346.41,61.65 346.55,62.1 346.7,62.45 346.85,63.04 347,63.55 347.15,63.98 347.31,64.49 347.46,65.1 347.62,65.37 347.77,65.94 347.93,66.37 348.09,67.06 348.25,67.4 348.41,68.01 348.57,68.48 348.73,68.99 348.89,69.69 349.05,69.99 349.22,70.68 349.38,71.12 349.55,71.68 349.71,72.01 349.88,72.64 350.04,73.11 350.21,73.45 350.37,74.03 350.54,74.47 350.71,74.96 350.87,75.58 351.04,75.81 351.21,76.15 351.37,76.6 351.54,77.18 351.7,77.59 351.87,78.09 352.04,78.56 352.2,79.1 352.42,79.46 352.64,79.99 352.85,80.35 353.07,80.99 353.29,81.56 353.5,82.03 353.72,82.11 353.93,82.9 354.15,83.43 354.37,83.79 354.58,83.96 354.8,84.53 355.03,85.06 355.25,85.47 355.48,85.75 355.7,86.16 355.94,86.79 356.17,86.95 356.41,87.68 356.65,87.94 356.9,88.39 357.15,88.62 357.4,89.13 357.67,89.72 357.94,89.92 358.21,90.77 358.49,90.82 358.77,91.3 359.05,91.9 359.34,92.4 359.63,92.88 359.93,93.21 360.22,93.67 360.52,94.11 360.82,94.5 361.12,94.7 361.43,95.52 361.73,95.85 362.04,96.23 362.35,96.53 362.66,97 362.97,97.33 363.28,97.66 363.59,98.12 363.9,98.1 364.34,98.73 364.78,98.96 365.22,99.41 365.67,99.96 366.12,99.98 366.58,100.39 367.03,100.62 367.49,101.06 367.95,101.08 368.4,101.22 368.85,101.67 369.3,101.76 369.8,101.95 370.29,102.27 370.78,102.18 371.27,102.36 371.76,102.5 372.25,102.6 372.76,102.53 373.27,102.73 373.8,102.86 374.27,102.52 374.74,102.73 375.2,102.19 375.67,102.49 376.14,102.17 376.62,102.09 377.12,101.88 377.64,101.68 378.18,101.43 378.75,101.35 379.36,101.35 380,101.13 380.34,100.86 380.69,100.73 381.05,100.59 381.43,100.41 381.81,100.63 382.2,100.37 382.6,100.18 383.01,99.97 383.42,99.76 383.85,99.89 384.28,99.67 384.72,99.32 385.17,99.39 385.63,98.98 386.09,99.02 386.55,98.67 387.03,98.57 387.51,98.5 387.99,98.32 388.48,98.21 388.97,97.82 389.47,97.92 389.97,97.71 390.47,97.37 390.98,97.25 391.49,96.92 392,96.81 392.52,96.49 393.04,96.47 393.55,96.3 394.07,96.24 394.6,96.01 395.12,95.82 395.64,95.5 396.16,95.33 396.68,95.14 397.2,95.02 397.72,94.6 398.24,94.73 398.76,94.29 399.27,94.24 399.78,94.13 400.29,93.9 400.8,93.99 401.25,93.64 401.7,93.69 402.16,93.5 402.61,93.17 403.07,93.12 403.53,93.08 404,92.75 404.46,92.65 404.93,92.44 405.4,92.36 405.87,92.17 406.34,92.08 406.82,92.04 407.3,91.94 407.77,91.65 408.25,91.51 408.74,91.44 409.22,91.16 409.7,90.93 410.19,91.04 410.67,90.66 411.16,90.73 411.65,90.36 412.13,90.54 412.62,90.07 413.11,90.14 413.6,90.07 414.09,89.64 414.58,89.78 415.08,89.37 415.57,89.12 416.06,89.26 416.55,89.12 417.04,88.87 417.53,88.46 418.03,88.6 418.52,88.43 419.01,88.28 419.5,88.15 419.99,87.83 420.48,87.83 420.97,87.96 421.46,87.79 421.94,87.43 422.43,87.25 422.92,87.24 423.4,87.17 423.88,86.99 424.37,86.64 424.85,86.65 425.33,86.51 425.8,86.52 426.28,86.35 426.76,86.14 427.23,86.08 427.7,85.75 428.19,85.83 428.69,85.46 429.18,85.41 429.67,85.33 430.16,84.98 430.65,84.86 431.14,84.6 431.63,84.67 432.12,84.51 432.61,84.34 433.1,84.29 433.58,83.85 434.07,83.95 434.55,83.82 435.04,83.64 435.52,83.62 436.01,83.59 436.49,83.2 436.98,83.01 437.46,82.91 437.94,82.85 438.43,82.77 438.91,82.46 439.39,82.54 439.87,82.17 440.35,82.24 440.84,82.06 441.32,81.93 441.8,81.98 442.28,81.57 442.76,81.44 443.24,81.38 443.72,81.28 444.2,80.89 444.69,80.94 445.17,80.69 445.65,80.71 446.13,80.65 446.61,80.37 447.09,80.21 447.57,80.1 448.05,79.61 448.54,79.9 449.02,79.73 449.5,79.55 449.98,79.35 450.47,79.17 450.95,79.1 451.43,79.12 451.92,78.83 452.4,78.86" fill="none" stroke="#222" stroke-width="1.1" stroke-linejoin="round" stroke-linecap="round"/>
<polyline points="321.5,41.25 321.78,41.04 322.06,40.73 322.35,40.31 322.64,39.76 322.91,39.43 323.17,39.15 323.4,38.38 323.54,38.02 323.66,37.6 323.77,37.2 323.88,36.84 323.98,36.34 324.07,35.57 324.16,35.38 324.24,34.64 324.32,34.09 324.39,33.76 324.46,33.04 324.53,32.39 324.6,31.91 324.68,31.38 324.75,30.85 324.82,30.43 324.9,30.08 325,29.48 325.09,28.76 325.17,28.62 325.26,27.71 325.34,27.29 325.43,26.77 325.51,26.34 325.6,25.76 325.69,25.38 325.79,25.11 325.9,24.51 326.09,23.69 326.27,23.18 326.5,22.52 326.8,22.16 327.47,21.93 328.2,21.93 328.83,22.09 329.4,22.68 329.62,22.91 329.81,23.22 329.99,23.91 330.15,24.31 330.3,25.01 330.45,25.39 330.6,26.05 330.73,26.49 330.85,26.67 330.97,27.26 331.08,27.79 331.2,28.53 331.31,28.73 331.43,29.51 331.55,30.05 331.67,30.52 331.8,31.06 331.92,31.42 332.04,31.95 332.17,32.47 332.31,32.99 332.44,33.52 332.58,33.94 332.72,34.4 332.85,34.93 332.99,35.52 333.12,35.82 333.25,36.35 333.38,36.9 333.5,37.35 333.65,37.91 333.79,38.2 333.94,38.93 334.08,39.43 334.22,40.02 334.35,40.25 334.47,40.92 334.59,41.51 334.7,42.05 334.78,42.58 334.85,43.03 334.91,43.3 334.96,43.94 335.01,44.33 335.05,44.78 335.1,45.5 335.14,45.8 335.19,46.29 335.25,46.87 335.32,47.36 335.4,48.1 335.47,48.48 335.54,49.04 335.62,49.42 335.7,49.8 335.79,50.45 335.88,50.79 335.97,51.32 336.07,51.86 336.17,52.4 336.27,53.04 336.37,53.39 336.47,54 336.57,54.49 336.68,54.89 336.78,55.42 336.89,56.02 336.99,56.58 337.1,57.07 337.2,57.57 337.3,58 337.41,58.47 337.52,59.04 337.64,59.37 337.75,59.8 337.86,60.34 337.97,60.67 338.09,61.2 338.2,61.62 338.32,62.09 338.44,62.61 338.56,63.01 338.68,63.55 338.81,63.95 338.93,64.69 339.07,65.18 339.2,65.94 339.27,65.97 339.34,66.52 339.42,66.99 339.49,67.12 339.57,67.71 339.64,68.16 339.72,68.57 339.8,68.85 339.88,69.45 339.96,69.88 340.04,70.23 340.13,70.86 340.21,71.26 340.29,71.74 340.38,72.18 340.46,72.78 340.55,73.23 340.64,73.84 340.73,74.29 340.81,74.71 340.9,75.27 340.99,75.91 341.08,76.32 341.17,76.93 341.26,77.48 341.36,77.96 341.45,78.3 341.54,79.08 341.63,79.64 341.72,80.19 341.82,80.66 341.91,81.4 342,81.82 342.1,82.33 342.19,82.88 342.29,83.53 342.38,83.94 342.47,84.5 342.57,85.34 342.66,85.82 342.76,86.34 342.85,86.9 342.94,87.36 343.04,87.67 343.13,88.48 343.22,89 343.32,89.44 343.41,89.72 343.5,90.53 343.59,91.04 343.68,91.35 343.78,91.89 343.87,92.42 343.96,92.81 344.05,93.38 344.14,93.73 344.22,94.22 344.31,94.59 344.4,94.86 344.52,95.47 344.64,96.42 344.75,96.69 344.86,97.32 344.98,97.84 345.09,98.41 345.2,98.81 345.3,99.21 345.41,99.76 345.52,99.7 345.63,100.69 345.73,101.49 345.84,101.08 345.95,102.24 346.06,102.89 346.17,103.51 346.28,103.32 346.39,103.86 346.51,103.97 346.62,104.68 346.74,105.59 346.86,106.49 346.99,106.02 347.11,107.21 347.24,107.4 347.38,107.59 347.51,108.84 347.65,107.94 347.8,109.13 347.95,109.68 348.1,110.72 348.25,111.1 348.41,111.72 348.57,111.58 348.72,112.32 348.88,112.92 349.04,113.16 349.21,113.6 349.37,113.94 349.54,114.36 349.71,114.61 349.88,116.03 350.05,115.82 350.23,115.84 350.4,117.01 350.58,117.41 350.77,117.96 350.95,118.92 351.14,118.84 351.34,119.28 351.53,119.61 351.73,120.3 351.94,120.64 352.14,121.3 352.35,122.61 352.57,122.27 352.79,122.36 353.01,123.62 353.24,123.75 353.47,124.17 353.71,124.57 353.95,125.02 354.2,125.4 354.48,126.06 354.76,126.39 355.05,126.93 355.35,126.83 355.65,127.42 355.96,127.64 356.27,128.56 356.59,128.94 356.91,128.99 357.24,129.71 357.57,130.71 357.9,130.72 358.24,130.43 358.58,131.13 358.93,131.73 359.28,131.92 359.63,132.42 359.98,133.03 360.33,133.15 360.69,133.1 361.05,133.99 361.4,134.1 361.76,134.51 362.12,134.65 362.48,134.75 362.84,135.12 363.2,135.7 363.61,135.85 364.03,135.72 364.44,137.2 364.87,136.87 365.29,137.34 365.72,138.03 366.16,137.5 366.59,138.92 367.03,138.61 367.47,139.33 367.91,139.29 368.35,139.81 368.79,140.02 369.23,140.26 369.67,139.98 370.11,140.33 370.55,140.98 370.99,141.62 371.43,141.26 371.87,141.77 372.3,141.85 372.81,142.15 373.32,142.49 373.83,141.94 374.33,142.63 374.84,142.65 375.34,142.75 375.85,142.71 376.35,142.84 376.86,142.86 377.37,142.91 377.89,144.02 378.41,143.82 378.93,143.34 379.46,143.54 380,143.01 380.45,142.45 380.9,142.67 381.35,143.17 381.8,143.46 382.25,142.93 382.7,142.53 383.16,142.63 383.62,142.26 384.08,141.99 384.54,142.17 385.01,141.94 385.48,141.63 385.96,141.41 386.44,141.19 386.93,141.32 387.43,141.43 387.93,140.73 388.43,141.21 388.95,139.84 389.47,140.14 390,139.46 390.37,139.57 390.75,139.45 391.14,139.38 391.52,139.34 391.92,138.63 392.31,138.2 392.71,138.28 393.12,138.18 393.53,137.64 393.94,137.85 394.36,137.82 394.78,136.65 395.2,136.91 395.62,136.82 396.05,135.69 396.48,136.02 396.92,135.61 397.35,134.97 397.79,135.48 398.23,134.86 398.67,134.36 399.11,134.33 399.56,134.08 400,133.82 400.45,133.46 400.9,133.1 401.35,132.33 401.79,132.24 402.24,132.1 402.69,130.94 403.14,132.07 403.59,131.03 404.04,130.53 404.49,130.01 404.93,130.31 405.38,129.95 405.83,129.48 406.27,129.24 406.71,128.81 407.15,128.57 407.59,128.48 408.03,128.05 408.47,128.16 408.9,127.66 409.33,127.48 409.77,127.29 410.2,127.28 410.63,126.83 411.06,126.46 411.48,126.08 411.91,125.63 412.34,125.51 412.76,125.55 413.19,125.16 413.61,124.72 414.04,124.19 414.46,123.87 414.89,124.16 415.31,124.11 415.74,123.67 416.16,122.9 416.59,122.99 417.01,122.86 417.44,122.28 417.87,122.4 418.3,121.99 418.73,121.55 419.16,121.18 419.59,121.53 420.02,121.15 420.46,120.54 420.89,120.25 421.33,120.56 421.77,120.23 422.21,119.72 422.66,120.03 423.1,119.24 423.55,118.77 424,119.15 424.45,118.53 424.91,118.45 425.37,118.11 425.83,117.57 426.29,117.27 426.76,117.32 427.23,117.55 427.7,116.61 428.12,117.08 428.55,116.54 428.98,115.94 429.42,116.13 429.85,116.01 430.29,115.37 430.73,114.8 431.17,115.32 431.61,114.69 432.06,114.93 432.51,114.04 432.96,114.35 433.41,113.95 433.87,113.55 434.32,113.71 434.78,113.63 435.24,113.21 435.7,112.83 436.16,113.03 436.62,112.26 437.09,112.73 437.55,112.51 438.02,112.66 438.49,112.23 438.96,111.87 439.43,111.65 439.9,111.38 440.37,110.79 440.84,111.4 441.31,110.93 441.78,110.49 442.26,110.04 442.73,110.61 443.2,110.14 443.68,109.44 444.15,109.78 444.62,109.94 445.1,109.18 445.57,109.11 446.04,108.67 446.52,108.41 446.99,108.71 447.46,109.1 447.93,108.03 448.4,107.77 448.87,107.83 449.34,107.31 449.81,107.42 450.28,107.25 450.75,106.51 451.21,106.29 451.68,106.38 452.14,106.44 452.6,106.08" fill="none" stroke="url(#gB75)" stroke-width="1.1" stroke-linejoin="round" stroke-linecap="round"/>
<polyline points="321.5,41.62 321.73,41 321.97,40.84 322.21,40.4 322.45,40.13 322.68,39.79 322.9,39.29 323.11,38.94 323.3,38.39 323.4,38.22 323.5,37.78 323.58,37.46 323.66,37.16 323.74,36.69 323.81,36.47 323.87,35.88 323.93,35.6 323.99,35.11 324.04,34.54 324.1,34.18 324.15,33.67 324.19,33.28 324.24,32.84 324.29,32.6 324.34,31.95 324.38,31.72 324.43,31.2 324.49,30.63 324.54,30.15 324.6,30.07 324.68,29.34 324.75,29.13 324.82,28.7 324.9,28.17 324.97,27.66 325.04,27.21 325.11,26.82 325.18,26.34 325.26,25.91 325.34,25.53 325.42,25.31 325.51,24.78 325.6,24.54 325.76,23.84 325.91,23.36 326.08,22.83 326.27,22.56 326.5,22.37 327.01,22.09 327.5,22.05 327.7,22.36 327.86,22.58 327.98,23.06 328.09,23.52 328.2,24.05 328.25,24.05 328.3,24.49 328.33,25.04 328.36,25.32 328.38,25.93 328.39,26.1 328.41,26.49 328.41,27.12 328.42,27.47 328.43,28.05 328.44,28.37 328.45,28.75 328.47,29.3 328.49,29.61 328.52,30.09 328.56,30.52 328.6,30.98 328.65,31.46 328.7,31.73 328.76,32.2 328.82,32.51 328.88,33.04 328.95,33.08 329.02,33.73 329.09,34.16 329.16,34.44 329.24,35.04 329.31,35.36 329.39,35.87 329.47,36.24 329.55,36.61 329.63,36.94 329.7,37.26 329.78,37.75 329.85,38.13 329.93,38.61 330,38.96 330.07,39.69 330.13,39.64 330.2,40.31 330.27,40.55 330.33,40.98 330.4,41.49 330.46,41.81 330.52,42.1 330.59,42.66 330.65,43.01 330.72,43.24 330.79,43.87 330.85,44.16 330.92,44.6 330.99,45.13 331.06,45.53 331.13,45.89 331.2,46.54 331.27,46.79 331.35,47.1 331.42,47.6 331.5,47.99 331.57,48.18 331.65,48.63 331.73,49.05 331.81,49.78 331.89,49.97 331.97,50.37 332.05,50.74 332.14,51.3 332.22,51.62 332.31,52.19 332.39,52.51 332.48,53 332.57,53.24 332.65,53.69 332.74,54.02 332.83,54.45 332.92,54.7 333,55.22 333.09,55.58 333.18,56.01 333.26,56.58 333.35,56.88 333.43,57.36 333.52,57.7 333.6,58.09 333.69,58.51 333.78,58.75 333.87,59.27 333.96,59.53 334.05,59.87 334.13,60.4 334.22,60.84 334.31,60.89 334.39,61.5 334.48,61.77 334.57,61.97 334.66,62.45 334.75,62.83 334.84,63.22 334.93,63.56 335.02,63.89 335.11,64.45 335.21,64.99 335.3,65.47 335.4,65.96 335.45,66.28 335.5,66.37 335.56,66.75 335.61,67.09 335.66,67.46 335.71,67.7 335.77,68.06 335.82,68.35 335.88,68.88 335.93,68.81 335.98,69.37 336.04,69.97 336.09,70.12 336.15,70.29 336.21,70.86 336.26,71.09 336.32,71.55 336.37,72.03 336.43,72.57 336.49,72.85 336.54,73.28 336.6,73.72 336.66,74.05 336.72,74.37 336.78,74.86 336.83,75.33 336.89,75.7 336.95,76.09 337.01,76.56 337.07,76.88 337.13,77.37 337.19,77.89 337.25,78.31 337.31,78.79 337.37,79.37 337.43,79.71 337.49,80.12 337.55,80.46 337.61,80.92 337.67,81.51 337.74,81.83 337.8,82.41 337.86,82.71 337.92,83.27 337.99,83.7 338.05,84.25 338.11,84.56 338.17,85 338.24,85.5 338.3,85.92 338.36,86.52 338.43,86.77 338.49,87.17 338.55,87.62 338.62,88.12 338.68,88.52 338.75,88.99 338.81,89.2 338.88,89.99 338.94,90.34 339.01,90.56 339.07,90.85 339.14,91.37 339.2,91.79 339.27,91.92 339.34,92.51 339.4,92.74 339.47,93.3 339.53,93.75 339.6,94.07 339.67,94.18 339.73,94.8 339.8,95.09 339.89,95.43 339.99,95.96 340.08,96.51 340.18,96.77 340.27,97.24 340.36,97.62 340.46,98.21 340.56,98.31 340.65,99.07 340.75,99.25 340.84,99.84 340.94,99.99 341.04,100.46 341.13,100.88 341.23,101.41 341.33,101.57 341.43,102.17 341.53,102.43 341.63,102.99 341.73,103.22 341.83,103.68 341.93,103.99 342.03,104.56 342.13,104.73 342.23,105.12 342.33,106.66 342.44,105.93 342.54,106.66 342.64,106.21 342.75,107.13 342.85,106.08 342.96,107.84 343.06,107.78 343.17,107.67 343.28,108.11 343.38,109.97 343.49,109.95 343.6,109.22 343.71,111.54 343.81,110.48 343.92,111.05 344.02,111.8 344.13,111.39 344.24,111.51 344.34,112.4 344.45,113.9 344.56,114.16 344.66,113.09 344.77,115.09 344.88,114.81 344.98,115.47 345.09,115.6 345.2,116.2 345.31,115.78 345.42,116.22 345.53,116.73 345.64,117.32 345.75,118.28 345.86,117.61 345.98,119.62 346.09,118.73 346.21,119.14 346.32,120.27 346.44,120.5 346.56,120.44 346.68,120.41 346.8,120.83 346.92,120.87 347.05,122.84 347.17,123.18 347.3,124.02 347.43,123.61 347.56,123.89 347.69,124.51 347.83,125 347.96,124.68 348.1,125.4 348.24,126.83 348.38,124.99 348.52,125.54 348.67,126.18 348.81,127.56 348.95,128.2 349.09,127.71 349.23,128.68 349.38,128.65 349.52,129.24 349.67,129.14 349.81,129.83 349.96,130.23 350.11,131.27 350.26,132.29 350.41,130.33 350.57,132.07 350.72,132.14 350.88,133.08 351.04,133.51 351.2,133.73 351.37,134.11 351.53,133.47 351.7,133.4 351.87,135.71 352.05,135.8 352.23,134.91 352.41,136.56 352.59,136.55 352.78,135.09 352.97,137.37 353.17,136.62 353.36,138.19 353.57,137.45 353.77,137.74 353.98,137.59 354.2,138.67 354.44,139.72 354.69,139.08 354.94,138.72 355.19,141.35 355.45,141.49 355.71,141.13 355.98,140.73 356.25,140.64 356.53,140.69 356.81,142.25 357.09,142.97 357.38,141.89 357.66,142.79 357.96,142.91 358.25,143.19 358.55,143.91 358.85,145.1 359.15,143.79 359.45,144.91 359.76,145.31 360.07,144.78 360.38,145.12 360.69,144.69 361,146.34 361.31,145.67 361.62,145.85 361.94,146.52 362.25,146.24 362.57,146.39 362.88,147.07 363.2,148.36 363.51,147.63 363.82,148.3 364.13,147.38 364.44,147.35 364.76,149.76 365.07,148.71 365.38,148.28 365.7,149.34 366.02,149.98 366.34,148.85 366.66,149.57 366.98,150.45 367.3,149.99 367.63,151.2 367.96,151.51 368.28,151.43 368.62,151.14 368.95,151.58 369.29,151.45 369.62,151.96 369.96,152.43 370.31,152.28 370.65,153.23 371,154.38 371.35,152.78 371.71,153.51 372.06,154 372.42,154.11 372.79,153.81 373.16,153.89 373.53,154.96 373.9,154.96 374.22,155.08 374.54,154.51 374.86,155.52 375.19,155.81 375.51,155.43 375.84,156.1 376.18,157.18 376.51,155.03 376.85,156.66 377.19,155.82 377.53,155.91 377.87,156.76 378.22,157.4 378.56,157.31 378.91,156.8 379.26,156.84 379.62,157.55 379.97,158.07 380.33,157.78 380.68,157.58 381.04,159.66 381.4,158.35 381.77,158.94 382.13,158.9 382.5,159.06 382.86,159.61 383.23,159.6 383.6,160.32 383.97,159.45 384.34,159.46 384.71,161.63 385.08,160.63 385.46,161.29 385.83,161.7 386.21,161.51 386.59,161.37 386.96,160.61 387.34,160.74 387.72,162.4 388.1,162.38 388.48,162.47 388.86,161.32 389.24,161.19 389.62,161.95 390,162.01 390.37,162.92 390.74,162.36 391.11,164 391.49,162.83 391.86,162.98 392.24,163.93 392.61,163.73 392.99,163.12 393.37,164.23 393.75,164.97 394.13,163.24 394.51,163.9 394.89,163.52 395.27,163.11 395.65,164.69 396.04,164.83 396.42,165.07 396.81,164.84 397.2,163.5 397.59,164.74 397.98,164.45 398.37,164.23 398.76,164.35 399.15,165.52 399.55,164.98 399.94,166.37 400.34,165.57 400.73,164.25 401.13,165.96 401.53,166.23 401.93,165.59 402.33,164.94 402.73,166.74 403.14,165.01 403.54,165.8 403.95,164.8 404.35,165.24 404.76,165.05 405.17,166.74 405.58,166.86 405.99,166 406.4,165.51 406.82,166.33 407.23,166.65 407.65,165.61 408.06,165.89 408.48,166.57 408.9,167.11 409.28,166.8 409.66,167.08 410.04,166.15 410.43,165.49 410.81,167.18 411.2,166.52 411.59,167.04 411.99,166.95 412.38,167.51 412.78,166.84 413.18,168.19 413.57,167.42 413.98,167.77 414.38,167.88 414.78,168.18 415.19,167.86 415.59,166.65 416,167.36 416.41,168.87 416.82,168.11 417.23,168.22 417.64,168.21 418.05,167.62 418.46,167.64 418.88,167.71 419.29,168.82 419.7,168.4 420.12,169.28 420.53,168.58 420.95,169.44 421.36,168.65 421.78,167.73 422.19,169.49 422.61,168.71 423.02,169.26 423.43,168.72 423.85,168.45 424.26,168.78 424.67,168.06 425.09,168.06 425.5,168.28 425.91,168.53 426.32,168.08 426.73,168.86 427.14,169.13 427.55,170.18 427.95,170.11 428.36,169.03 428.76,169.61 429.16,168.99 429.56,169.38 429.96,169.17 430.36,168.9 430.76,169.29 431.15,168.4 431.55,169.56 431.94,169.16 432.33,168.71 432.71,169.16 433.1,169.73 433.52,169.02 433.95,169.73 434.37,169.81 434.79,170.41 435.21,168.87 435.63,169.46 436.04,169.84 436.46,170.44 436.87,169.72 437.28,170.02 437.69,168.72 438.1,169.25 438.51,170.59 438.92,169.44 439.33,170.9 439.74,169.19 440.14,169.46 440.55,168.69 440.95,170.01 441.36,169.79 441.76,170.83 442.16,169.73 442.56,169.49 442.97,168.8 443.37,169.58 443.77,170.19 444.17,170.07 444.57,170.35 444.97,170.14 445.37,169.59 445.77,169.98 446.17,169.72 446.57,168.82 446.97,170.62 447.37,169.83 447.77,168.98 448.17,169.83 448.57,169.77 448.97,170.19 449.37,170.45 449.77,167.79 450.17,169.92 450.58,170.5 450.98,169.03 451.38,168.49 451.78,169.76 452.19,169.79 452.59,169.8 453,168.94" fill="none" stroke="url(#gB150)" stroke-width="1.35" stroke-linejoin="round" stroke-linecap="round"/>
<text x="454.5" y="38.8" font-size="10.4" font-weight="bold" text-anchor="start" fill="#000" textLength="44.8" lengthAdjust="spacingAndGlyphs">1 mU/mL</text>
<text x="453.8" y="66.9" font-size="10.4" font-weight="bold" text-anchor="start" fill="#000" textLength="50.6" lengthAdjust="spacingAndGlyphs">25 mU/mL</text>
<text x="453.8" y="82.5" font-size="10.4" font-weight="bold" text-anchor="start" fill="#000" textLength="50.6" lengthAdjust="spacingAndGlyphs">50 mU/mL</text>
<text x="453.9" y="110.7" font-size="10.4" font-weight="bold" text-anchor="start" fill="#000" textLength="50.6" lengthAdjust="spacingAndGlyphs">75 mU/mL</text>
<text x="454.3" y="173.1" font-size="10.4" font-weight="bold" text-anchor="start" fill="#000" textLength="56" lengthAdjust="spacingAndGlyphs">150 mU/mL</text>
<text x="4.5" y="249.1" font-size="15.6" font-weight="bold" text-anchor="start" fill="#000" stroke="#000" stroke-width="0.4" textLength="11.5" lengthAdjust="spacingAndGlyphs">C</text>
<line x1="44.5" y1="253.6" x2="44.5" y2="433.3" stroke="#555" stroke-width="1.1"/>
<line x1="44.4" y1="433.3" x2="207.4" y2="433.3" stroke="#222" stroke-width="1.2"/>
<line x1="41.8" y1="427.6" x2="44.5" y2="427.6" stroke="#555" stroke-width="1"/>
<text x="34.1" y="432.2" font-size="10.4" font-weight="bold" text-anchor="middle" fill="#000">0</text>
<line x1="41.8" y1="408.26" x2="44.5" y2="408.26" stroke="#555" stroke-width="1"/>
<text x="34.1" y="412.81" font-size="10.4" font-weight="bold" text-anchor="middle" fill="#000">10</text>
<line x1="41.8" y1="388.92" x2="44.5" y2="388.92" stroke="#555" stroke-width="1"/>
<text x="34.1" y="393.42" font-size="10.4" font-weight="bold" text-anchor="middle" fill="#000">20</text>
<line x1="41.8" y1="369.58" x2="44.5" y2="369.58" stroke="#555" stroke-width="1"/>
<text x="34.1" y="374.03" font-size="10.4" font-weight="bold" text-anchor="middle" fill="#000">30</text>
<line x1="41.8" y1="350.24" x2="44.5" y2="350.24" stroke="#555" stroke-width="1"/>
<text x="34.1" y="354.64" font-size="10.4" font-weight="bold" text-anchor="middle" fill="#000">40</text>
<line x1="41.8" y1="330.9" x2="44.5" y2="330.9" stroke="#555" stroke-width="1"/>
<text x="34.1" y="335.25" font-size="10.4" font-weight="bold" text-anchor="middle" fill="#000">50</text>
<line x1="41.8" y1="311.56" x2="44.5" y2="311.56" stroke="#555" stroke-width="1"/>
<text x="34.1" y="315.86" font-size="10.4" font-weight="bold" text-anchor="middle" fill="#000">60</text>
<line x1="41.8" y1="292.22" x2="44.5" y2="292.22" stroke="#555" stroke-width="1"/>
<text x="34.1" y="296.47" font-size="10.4" font-weight="bold" text-anchor="middle" fill="#000">70</text>
<line x1="41.8" y1="272.88" x2="44.5" y2="272.88" stroke="#555" stroke-width="1"/>
<text x="34.1" y="277.08" font-size="10.4" font-weight="bold" text-anchor="middle" fill="#000">80</text>
<line x1="41.8" y1="253.54" x2="44.5" y2="253.54" stroke="#555" stroke-width="1"/>
<text x="34.1" y="257.69" font-size="10.4" font-weight="bold" text-anchor="middle" fill="#000">90</text>
<line x1="44.4" y1="433.3" x2="44.4" y2="435.6" stroke="#333" stroke-width="1"/>
<text x="45.2" y="445.5" font-size="10.6" font-weight="bold" text-anchor="middle" fill="#000">0</text>
<line x1="71.53" y1="433.3" x2="71.53" y2="435.6" stroke="#333" stroke-width="1"/>
<text x="73.1" y="445.5" font-size="10.6" font-weight="bold" text-anchor="middle" fill="#000">25</text>
<line x1="98.66" y1="433.3" x2="98.66" y2="435.6" stroke="#333" stroke-width="1"/>
<text x="99.6" y="445.5" font-size="10.6" font-weight="bold" text-anchor="middle" fill="#000">50</text>
<line x1="125.8" y1="433.3" x2="125.8" y2="435.6" stroke="#333" stroke-width="1"/>
<text x="126.8" y="445.5" font-size="10.6" font-weight="bold" text-anchor="middle" fill="#000">75</text>
<line x1="152.93" y1="433.3" x2="152.93" y2="435.6" stroke="#333" stroke-width="1"/>
<text x="152.3" y="445.5" font-size="10.6" font-weight="bold" text-anchor="middle" fill="#000">100</text>
<line x1="180.06" y1="433.3" x2="180.06" y2="435.6" stroke="#333" stroke-width="1"/>
<text x="180" y="445.5" font-size="10.6" font-weight="bold" text-anchor="middle" fill="#000">125</text>
<line x1="207.19" y1="433.3" x2="207.19" y2="435.6" stroke="#333" stroke-width="1"/>
<text x="207.4" y="445.5" font-size="10.6" font-weight="bold" text-anchor="middle" fill="#000">150</text>
<text x="63.6" y="459.8" font-size="14" font-weight="bold" text-anchor="start" fill="#000" textLength="126.8" lengthAdjust="spacingAndGlyphs">Thrombin (mU/mL)</text>
<text x="19.4" y="404.4" font-size="18" font-weight="bold" text-anchor="start" fill="#000" textLength="123.2" lengthAdjust="spacingAndGlyphs" transform="rotate(-90 19.4 404.4)">% Aggregation</text>
<line x1="52.4" y1="361" x2="52.4" y2="382.4" stroke="#222" stroke-width="1"/>
<line x1="51" y1="361" x2="53.8" y2="361" stroke="#222" stroke-width="1.2"/>
<line x1="51" y1="382.4" x2="53.8" y2="382.4" stroke="#222" stroke-width="1.2"/>
<line x1="84.8" y1="271.3" x2="84.8" y2="281" stroke="#222" stroke-width="1"/>
<line x1="83.4" y1="271.3" x2="86.2" y2="271.3" stroke="#222" stroke-width="1.2"/>
<line x1="83.4" y1="281" x2="86.2" y2="281" stroke="#222" stroke-width="1.2"/>
<line x1="98.5" y1="270.2" x2="98.5" y2="278.3" stroke="#222" stroke-width="1"/>
<line x1="97.1" y1="270.2" x2="99.9" y2="270.2" stroke="#222" stroke-width="1.2"/>
<line x1="97.1" y1="278.3" x2="99.9" y2="278.3" stroke="#222" stroke-width="1.2"/>
<line x1="71.9" y1="377.4" x2="71.9" y2="390.3" stroke="#222" stroke-width="1"/>
<line x1="70.5" y1="377.4" x2="73.3" y2="377.4" stroke="#222" stroke-width="1.2"/>
<line x1="70.5" y1="390.3" x2="73.3" y2="390.3" stroke="#222" stroke-width="1.2"/>
<line x1="98.3" y1="320" x2="98.3" y2="341.8" stroke="#222" stroke-width="1"/>
<line x1="96.9" y1="320" x2="99.7" y2="320" stroke="#222" stroke-width="1.2"/>
<line x1="96.9" y1="341.8" x2="99.7" y2="341.8" stroke="#222" stroke-width="1.2"/>
<line x1="125.7" y1="290.5" x2="125.7" y2="300.4" stroke="#222" stroke-width="1"/>
<line x1="124.3" y1="290.5" x2="127.1" y2="290.5" stroke="#222" stroke-width="1.2"/>
<line x1="124.3" y1="300.4" x2="127.1" y2="300.4" stroke="#222" stroke-width="1.2"/>
<line x1="152.8" y1="271.1" x2="152.8" y2="284.6" stroke="#222" stroke-width="1"/>
<line x1="151.4" y1="271.1" x2="154.2" y2="271.1" stroke="#222" stroke-width="1.2"/>
<line x1="151.4" y1="284.6" x2="154.2" y2="284.6" stroke="#222" stroke-width="1.2"/>
<line x1="207.2" y1="268.5" x2="207.2" y2="276.2" stroke="#222" stroke-width="1"/>
<line x1="205.8" y1="268.5" x2="208.6" y2="268.5" stroke="#222" stroke-width="1.2"/>
<line x1="205.8" y1="276.2" x2="208.6" y2="276.2" stroke="#222" stroke-width="1.2"/>
<polyline points="50,424 51.7,405 52.4,371.7 61.5,263.1 84.8,276.2 98.5,274" fill="none" stroke="#000" stroke-width="2.2" stroke-linejoin="round"/>
<polyline points="50,424 71.9,383.8 98.3,330.6 125.7,295.2 152.8,278.2 207.2,272.3" fill="none" stroke="#000" stroke-width="1.7" stroke-linejoin="round"/>
<circle cx="51.7" cy="405" r="2.9" fill="#000"/>
<circle cx="52.4" cy="371.7" r="2.9" fill="#000"/>
<circle cx="61.5" cy="263.1" r="2.9" fill="#000"/>
<circle cx="84.8" cy="276.2" r="2.9" fill="#000"/>
<circle cx="98.5" cy="274" r="2.9" fill="#000"/>
<circle cx="50" cy="424" r="2.7" fill="#fff" stroke="#333" stroke-width="1"/>
<circle cx="71.9" cy="383.8" r="2.7" fill="#fff" stroke="#333" stroke-width="1"/>
<circle cx="98.3" cy="330.6" r="2.7" fill="#fff" stroke="#333" stroke-width="1"/>
<circle cx="125.7" cy="295.2" r="2.7" fill="#fff" stroke="#333" stroke-width="1"/>
<circle cx="152.8" cy="278.2" r="2.7" fill="#fff" stroke="#333" stroke-width="1"/>
<circle cx="207.2" cy="272.3" r="2.7" fill="#fff" stroke="#333" stroke-width="1"/>
<line x1="124.3" y1="404.6" x2="141.6" y2="404.6" stroke="#000" stroke-width="1.6"/>
<circle cx="133" cy="404.6" r="2.8" fill="#000"/>
<line x1="124.3" y1="419.2" x2="141.6" y2="419.2" stroke="#000" stroke-width="1.4"/>
<circle cx="133" cy="419.2" r="2.6" fill="#fff" stroke="#000" stroke-width="1"/>
<text x="142.4" y="408.4" font-size="13.4" font-weight="bold" text-anchor="start" fill="#000" textLength="21.4" lengthAdjust="spacingAndGlyphs">WT</text>
<text x="142.4" y="422.8" font-size="13.4" font-weight="bold" text-anchor="start" fill="#000" textLength="64" lengthAdjust="spacingAndGlyphs">Ruby-eye</text>
<text x="257.5" y="248.8" font-size="15.6" font-weight="bold" text-anchor="start" fill="#000" stroke="#000" stroke-width="0.4" textLength="11.2" lengthAdjust="spacingAndGlyphs">D</text>
<line x1="297.7" y1="262.2" x2="453.9" y2="262.2" stroke="#1a1a1a" stroke-width="1.1"/>
<line x1="297.9" y1="260.2" x2="297.9" y2="262.2" stroke="#444" stroke-width="0.9"/>
<text x="297.9" y="259.6" font-size="8.4" font-weight="bold" text-anchor="middle" fill="#000" stroke="#000" stroke-width="0.45" textLength="5.6" lengthAdjust="spacingAndGlyphs">0</text>
<line x1="323.87" y1="260.2" x2="323.87" y2="262.2" stroke="#444" stroke-width="0.9"/>
<text x="323.87" y="259.6" font-size="8.4" font-weight="bold" text-anchor="middle" fill="#000" stroke="#000" stroke-width="0.45" textLength="5.6" lengthAdjust="spacingAndGlyphs">1</text>
<line x1="349.84" y1="260.2" x2="349.84" y2="262.2" stroke="#444" stroke-width="0.9"/>
<text x="349.84" y="259.6" font-size="8.4" font-weight="bold" text-anchor="middle" fill="#000" stroke="#000" stroke-width="0.45" textLength="5.6" lengthAdjust="spacingAndGlyphs">2</text>
<line x1="375.81" y1="260.2" x2="375.81" y2="262.2" stroke="#444" stroke-width="0.9"/>
<text x="375.81" y="259.6" font-size="8.4" font-weight="bold" text-anchor="middle" fill="#000" stroke="#000" stroke-width="0.45" textLength="5.6" lengthAdjust="spacingAndGlyphs">3</text>
<line x1="401.78" y1="260.2" x2="401.78" y2="262.2" stroke="#444" stroke-width="0.9"/>
<text x="401.78" y="259.6" font-size="8.4" font-weight="bold" text-anchor="middle" fill="#000" stroke="#000" stroke-width="0.45" textLength="5.6" lengthAdjust="spacingAndGlyphs">4</text>
<line x1="427.75" y1="260.2" x2="427.75" y2="262.2" stroke="#444" stroke-width="0.9"/>
<text x="427.75" y="259.6" font-size="8.4" font-weight="bold" text-anchor="middle" fill="#000" stroke="#000" stroke-width="0.45" textLength="5.6" lengthAdjust="spacingAndGlyphs">5</text>
<line x1="453.72" y1="260.2" x2="453.72" y2="262.2" stroke="#444" stroke-width="0.9"/>
<text x="453.72" y="259.6" font-size="8.4" font-weight="bold" text-anchor="middle" fill="#000" stroke="#000" stroke-width="0.45" textLength="5.6" lengthAdjust="spacingAndGlyphs">6</text>
<line x1="298.2" y1="262.2" x2="298.2" y2="455.3" stroke="#6a6a6a" stroke-width="1.2"/>
<line x1="295.6" y1="279.9" x2="298.2" y2="279.9" stroke="#6a6a6a" stroke-width="1"/>
<text x="294.6" y="282.8" font-size="8.5" font-weight="bold" text-anchor="end" fill="#000" stroke="#000" stroke-width="0.45" textLength="5.75" lengthAdjust="spacingAndGlyphs">0</text>
<line x1="295.6" y1="297.3" x2="298.2" y2="297.3" stroke="#6a6a6a" stroke-width="1"/>
<text x="294.6" y="300.2" font-size="8.5" font-weight="bold" text-anchor="end" fill="#000" stroke="#000" stroke-width="0.45" textLength="11.5" lengthAdjust="spacingAndGlyphs">10</text>
<line x1="295.6" y1="314.7" x2="298.2" y2="314.7" stroke="#6a6a6a" stroke-width="1"/>
<text x="294.6" y="317.6" font-size="8.5" font-weight="bold" text-anchor="end" fill="#000" stroke="#000" stroke-width="0.45" textLength="11.5" lengthAdjust="spacingAndGlyphs">20</text>
<line x1="295.6" y1="332.1" x2="298.2" y2="332.1" stroke="#6a6a6a" stroke-width="1"/>
<text x="294.6" y="335" font-size="8.5" font-weight="bold" text-anchor="end" fill="#000" stroke="#000" stroke-width="0.45" textLength="11.5" lengthAdjust="spacingAndGlyphs">30</text>
<line x1="295.6" y1="349.5" x2="298.2" y2="349.5" stroke="#6a6a6a" stroke-width="1"/>
<text x="294.6" y="352.4" font-size="8.5" font-weight="bold" text-anchor="end" fill="#000" stroke="#000" stroke-width="0.45" textLength="11.5" lengthAdjust="spacingAndGlyphs">40</text>
<line x1="295.6" y1="366.9" x2="298.2" y2="366.9" stroke="#6a6a6a" stroke-width="1"/>
<text x="294.6" y="369.8" font-size="8.5" font-weight="bold" text-anchor="end" fill="#000" stroke="#000" stroke-width="0.45" textLength="11.5" lengthAdjust="spacingAndGlyphs">50</text>
<line x1="295.6" y1="384.3" x2="298.2" y2="384.3" stroke="#6a6a6a" stroke-width="1"/>
<text x="294.6" y="387.2" font-size="8.5" font-weight="bold" text-anchor="end" fill="#000" stroke="#000" stroke-width="0.45" textLength="11.5" lengthAdjust="spacingAndGlyphs">60</text>
<line x1="295.6" y1="401.7" x2="298.2" y2="401.7" stroke="#6a6a6a" stroke-width="1"/>
<text x="294.6" y="404.6" font-size="8.5" font-weight="bold" text-anchor="end" fill="#000" stroke="#000" stroke-width="0.45" textLength="11.5" lengthAdjust="spacingAndGlyphs">70</text>
<line x1="295.6" y1="419.1" x2="298.2" y2="419.1" stroke="#6a6a6a" stroke-width="1"/>
<text x="294.6" y="422" font-size="8.5" font-weight="bold" text-anchor="end" fill="#000" stroke="#000" stroke-width="0.45" textLength="11.5" lengthAdjust="spacingAndGlyphs">80</text>
<line x1="295.6" y1="436.5" x2="298.2" y2="436.5" stroke="#6a6a6a" stroke-width="1"/>
<text x="294.6" y="439.4" font-size="8.5" font-weight="bold" text-anchor="end" fill="#000" stroke="#000" stroke-width="0.45" textLength="11.5" lengthAdjust="spacingAndGlyphs">90</text>
<line x1="295.6" y1="453.9" x2="298.2" y2="453.9" stroke="#6a6a6a" stroke-width="1"/>
<text x="294.6" y="456.8" font-size="8.5" font-weight="bold" text-anchor="end" fill="#000" stroke="#000" stroke-width="0.45" textLength="17.25" lengthAdjust="spacingAndGlyphs">100</text>
<text x="357.6" y="248.6" font-size="10.1" font-weight="bold" text-anchor="start" fill="#000" stroke="#000" stroke-width="0.45" textLength="54.8" lengthAdjust="spacingAndGlyphs">Time (m)</text>
<text x="279.3" y="421.8" font-size="11" font-weight="bold" text-anchor="start" fill="#000" stroke="#000" stroke-width="0.45" textLength="130.8" lengthAdjust="spacingAndGlyphs" transform="rotate(-90 279.3 421.8)">% Light Transmission</text>
<polyline points="298.5,280.17 299,280.5 299.5,280.77 300,281.48 300.5,280.55 301,280.1 301.5,279.23 302,280.93 302.5,280.33 303,280.35 303.5,279.91 304,280.76 304.5,279.51 305,280.45 305.5,280.46 306,280.55 306.5,281.05 307,280.35 307.5,280.45 308,280.82 308.5,279.63 309,280.26 309.5,280.43 310,280.87 310.5,280 311,280.8 311.5,280.59 312,279.66 312.5,279.67 313,279.69 313.5,280.47 314,280.5 314.5,280.76 315,280.81 315.5,280.13 316,280.93 316.5,280.81 317,280.63 317.5,280.64 318,279.76 318.5,280.58 319,279.89 319.5,279.81 320,280.23 320.5,280.47 321,280.37 321.5,280.24 322,279.9 322.5,280.49 323,280.03 323.5,279.7 324,280.45 324.5,281.12 325,280.2 325.5,279.87 326,281.09" fill="none" stroke="#000" stroke-width="1.3" stroke-linejoin="round"/>
<polyline points="298.5,280.85 299,279.85 299.5,279.9 300,280.11 300.5,281.47 301,280.07 301.5,280.49 302,280.22 302.5,279.09 303,279.45 303.5,279.39 304,280.22 304.5,280.05 305,280.89 305.5,279.87 306,280.15 306.5,280.04 307,280.07 307.5,281.15 308,280.14 308.5,280.73 309,280.65 309.5,279.7 310,280.34 310.5,279.81 311,280.05 311.5,280.08 312,280.01 312.5,279.77 313,280.78 313.5,279.87 314,280.35 314.5,280.84 315,280.31 315.5,280.51 316,280.69 316.5,280.54 317,280.86 317.5,279.29" fill="none" stroke="#000" stroke-width="1.2" stroke-linejoin="round"/>
<polyline points="317.3,281.08 317.38,279.68 317.45,278.34 317.53,278.3 317.61,277.42 317.7,277.51 317.8,276.33 317.91,275.94 318.01,275.89 318.13,275.23 318.32,274.26 318.6,274.09 319.05,273.84 319.6,273.75 320.25,273.6 321,273.4 321.36,273.84 321.74,272.68 322.16,273.14 322.6,273.39 323.07,273.12 323.55,273.02 324.06,273.05 324.57,273.33 325.11,273.78 325.65,273.12 326.2,273.08 326.75,273.35 327.3,273.08 327.86,272.32 328.41,273.31 328.95,273.02 329.48,272.94 330,273.48 330.48,273.23 330.96,272.96 331.44,272.25 331.91,272.47 332.38,273.26 332.85,273.22 333.33,273.49 333.8,273.42 334.27,273.13 334.75,272.8 335.24,272.9 335.73,273.36 336.23,272.94 336.73,273.83 337.25,272.93 337.77,272.75 338.31,273.5 338.86,272.83 339.42,274.4 340,273.25 340.42,273.7 340.85,273.64 341.28,273.41 341.72,273.02 342.17,273.01 342.63,274.27 343.09,274.37 343.56,274.92 344.04,273.32 344.52,274.27 345,274.04 345.5,274.47 345.99,273.89 346.49,274.49 347,274.61 347.51,274.52 348.02,274.93 348.53,274.24 349.05,275.06 349.57,274.09 350.09,275.2 350.62,273.25 351.14,274.53 351.67,274.21 352.2,274.61 352.73,275.12 353.26,275.02 353.78,274.78 354.31,275.54 354.84,274.15 355.37,274.49 355.89,275.58 356.41,275.09 356.93,274.04 357.45,275.17 357.97,274.52 358.48,275.76 358.99,275.64 359.5,274.92 360,275.78 360.5,274.86 361,275.68 361.49,275.57 361.98,275.28 362.47,274.73 362.96,275.28 363.45,274.41 363.93,275.22 364.42,274.68 364.9,276.09 365.39,275.15 365.87,274.52 366.35,275.91 366.84,275.85 367.32,275.49 367.8,276.7 368.29,276.13 368.77,275.85 369.26,275.56 369.75,274.55 370.23,276.13 370.72,276.38 371.21,275.72 371.71,275.38 372.2,276.03 372.7,275.33 373.2,276.11 373.7,276.49 374.21,276.85 374.71,276.32 375.23,276.32 375.74,276.6 376.26,276.93 376.78,276.18 377.31,275.8 377.84,276.03 378.37,275.85 378.91,276.04 379.45,276.42 380,276.65 380.45,276.59 380.9,276.58 381.36,276.41 381.81,276.78 382.27,277.01 382.73,276.98 383.19,277.33 383.65,276.55 384.12,276.58 384.59,277.48 385.05,276.83 385.52,276.95 386,276.63 386.47,277.24 386.95,276.64 387.42,276.39 387.9,276.84 388.38,276.68 388.87,277.28 389.35,276.75 389.84,277 390.32,276.86 390.81,277.13 391.3,276.71 391.8,277.51 392.29,276.39 392.79,276.88 393.28,276.75 393.78,277.38 394.28,277.13 394.79,277.34 395.29,277 395.79,276.84 396.3,276.68 396.81,277.05 397.32,276.97 397.83,277.36 398.34,277.41 398.86,277.71 399.38,277.23 399.89,276.96 400.41,276.84 400.93,277.36 401.45,277.51 401.98,278.24 402.5,277.46 403.03,278.19 403.56,278.26 404.09,276.96 404.62,277.99 405.15,277.97 405.68,278.08 406.22,277.49 406.75,277.94 407.29,277.31 407.83,277.51 408.37,277.56 408.91,278.37 409.46,277.49 410,278.03 410.46,277.64 410.91,277.31 411.37,277.75 411.84,277.95 412.3,277.34 412.77,277.96 413.23,277.36 413.7,277.3 414.18,277.81 414.65,277.61 415.12,277.29 415.6,277.01 416.08,277.76 416.56,277.87 417.04,277.57 417.52,277.87 418.01,277.11 418.49,277.98 418.98,278 419.47,277.95 419.96,277.56 420.45,277.88 420.95,277.91 421.44,278.35 421.93,278 422.43,278 422.93,277.57 423.43,278.29 423.93,278.44 424.43,277.7 424.93,278.22 425.43,278.08 425.94,277.93 426.44,277.38 426.95,278.76 427.45,277.14 427.96,278.12 428.47,277.82 428.98,278.52 429.49,277.82 430,278.04 430.51,278.3 431.02,278.24 431.53,277.81 432.04,278.36 432.55,278.24 433.07,278.51 433.58,277.85 434.09,278.06 434.61,277.92 435.12,277.73 435.63,278.22 436.15,278.3 436.66,278.76 437.18,277.99 437.69,278.32 438.21,278.66 438.72,278.11 439.24,278.2 439.75,278.24 440.27,277.87 440.78,277.75 441.3,278.7 441.81,278.29 442.33,278.18 442.84,277.67 443.35,278.29 443.87,278.77 444.38,277.73 444.89,277.86 445.4,278.77 445.91,278.92 446.43,278.98 446.94,278.05 447.44,278.57 447.95,277.97 448.46,278.55 448.97,278.16 449.48,278.42 449.98,278.95 450.49,278.51 450.99,278.26 451.5,278.4 452,278.5 452.5,278.16 453,278.49" fill="none" stroke="#000" stroke-width="1.3" stroke-linejoin="round" stroke-linecap="round"/>
<polyline points="325.4,280.36 325.51,279.97 325.62,279.12 325.72,278.73 325.83,278.24 325.93,277.97 326.04,277.64 326.15,276.93 326.26,276.43 326.38,276.03 326.5,275.16 326.62,274.88 326.73,274.07 326.85,273.87 326.97,273.26 327.09,272.71 327.22,272.25 327.35,271.61 327.48,271.25 327.63,270.62 327.77,270.16 327.93,269.9 328.1,269.16 328.33,268.71 328.57,267.96 328.83,267.6 329.09,267.05 329.37,266.51 329.67,266.2 330,265.96 330.58,265.63 331.22,265.37 331.9,265.39 332.35,265.62 332.82,265.55 333.31,265.89 333.81,266.3 334.33,266.65 334.86,267.13 335.4,267.47 335.79,267.59 336.18,267.88 336.59,268 337,268.42 337.42,268.78 337.84,269.06 338.26,269.43 338.69,269.83 339.12,270.02 339.54,270.41 339.97,270.64 340.39,271.27 340.8,271.4 341.19,271.65 341.59,272.22 341.98,272.44 342.38,272.88 342.78,273.07 343.18,273.64 343.57,273.83 343.97,274.1 344.35,274.43 344.74,274.74 345.11,275.19 345.48,275.66 345.85,275.79 346.2,276.09 346.55,276.64 346.9,277.07 347.24,277.2 347.58,277.67 347.91,278.03 348.24,278.59 348.56,278.99 348.87,279.29 349.18,279.67 349.48,280.29 349.77,280.47 350.06,281.2 350.33,281.59 350.6,282.29 350.82,282.62 351.03,282.91 351.23,283.4 351.43,283.87 351.62,284.31 351.81,284.88 351.99,285.47 352.16,285.73 352.33,286.37 352.5,287.06 352.66,287.51 352.82,287.88 352.98,288.4 353.13,288.92 353.28,289.36 353.43,290.14 353.58,290.54 353.72,290.97 353.86,291.38 354,291.96 354.15,292.47 354.29,293.2 354.41,293.49 354.54,294.05 354.65,294.64 354.76,295.09 354.87,295.5 354.97,295.8 355.08,296.64 355.19,297.05 355.31,297.44 355.43,297.97 355.55,298.38 355.69,298.89 355.84,299.34 356,300.05 356.16,300.52 356.32,300.95 356.49,301.47 356.67,301.91 356.85,302.33 357.04,302.69 357.23,303.3 357.43,303.83 357.63,304.24 357.84,304.77 358.04,305.08 358.25,305.51 358.46,306.22 358.67,306.53 358.88,307.11 359.09,307.57 359.29,308.11 359.5,308.6 359.7,309.11 359.9,309.52 360.05,310.32 360.21,310.59 360.36,310.83 360.51,311.39 360.67,311.83 360.82,312.33 360.97,312.63 361.12,313.42 361.27,314 361.42,314.31 361.58,314.9 361.73,315.38 361.88,315.7 362.03,316.45 362.19,316.67 362.34,317.28 362.49,317.81 362.65,318.48 362.8,318.88 362.96,319.36 363.11,319.8 363.27,320.4 363.43,320.9 363.59,321.47 363.75,322.04 363.91,322.47 364.07,322.89 364.23,323.37 364.4,324.03 364.56,324.37 364.73,324.83 364.9,325.48 365.08,325.94 365.26,326.33 365.44,326.75 365.62,327.18 365.8,327.83 365.99,328.16 366.17,328.78 366.36,329.09 366.55,329.65 366.74,330.16 366.93,330.61 367.12,331.09 367.31,331.58 367.5,331.9 367.69,332.37 367.89,332.93 368.08,333.59 368.27,333.87 368.47,334.25 368.66,334.74 368.86,335.27 369.05,335.84 369.24,336.13 369.44,336.69 369.63,337.11 369.82,337.51 370.02,337.91 370.21,338.44 370.4,338.83 370.61,339.44 370.81,339.69 371.01,340.46 371.21,340.9 371.42,341.37 371.62,341.93 371.82,342.32 372.02,342.57 372.22,343.22 372.42,343.73 372.62,344.09 372.82,344.51 373.02,345.13 373.23,345.6 373.43,345.97 373.64,346.45 373.85,346.88 374.06,347.33 374.27,347.83 374.48,348.4 374.7,348.58 374.92,349.15 375.14,349.78 375.37,350.09 375.6,350.52 375.85,351.05 376.1,351.32 376.35,351.76 376.61,352.17 376.87,352.63 377.13,353.24 377.39,353.74 377.65,354.06 377.92,354.47 378.19,355 378.46,355.46 378.73,355.85 379,356.07 379.28,356.63 379.56,356.86 379.85,357.56 380.13,357.88 380.42,358.32 380.71,358.96 381,359.37 381.3,359.72 381.6,360.17 381.89,360.56 382.18,360.79 382.48,361.34 382.78,362.23 383.09,361.97 383.39,362.44 383.7,363.06 384.01,363.66 384.33,364.06 384.64,364.04 384.96,364.66 385.28,365.05 385.6,365.23 385.93,365.96 386.25,366.23 386.58,366.98 386.9,367.27 387.23,367.37 387.56,367.98 387.89,368.27 388.22,368.6 388.54,369.02 388.87,369.78 389.2,369.8 389.55,369.88 389.9,370.51 390.25,371.29 390.6,372.01 390.94,371.62 391.29,372.17 391.64,372.56 391.99,372.68 392.35,373.49 392.7,373.76 393.05,374.21 393.41,375.05 393.77,374.81 394.14,375.43 394.5,375.8 394.88,375.8 395.25,376.16 395.63,377.04 396.02,377.18 396.4,377.39 396.8,377.43 397.18,378.24 397.57,378.48 397.96,379.21 398.36,379.35 398.76,379.51 399.16,379.7 399.57,379.96 399.98,380.13 400.4,380.65 400.82,380.94 401.24,381.34 401.66,381.75 402.09,381.86 402.51,381.95 402.93,382.57 403.36,383.05 403.78,382.75 404.21,383.34 404.63,383.65 405.05,383.93 405.47,384.19 405.89,384.31 406.3,384.58 406.76,385.3 407.21,385.59 407.66,385.11 408.11,385.11 408.56,386.1 409,386.1 409.45,386.4 409.89,386.39 410.34,387.12 410.79,387.27 411.24,387.4 411.69,387.99 412.15,388.6 412.61,388.61 413.07,388.77 413.55,388.61 414.02,389.1 414.51,389.16 415,389.68 415.45,389.75 415.91,389.8 416.36,390.14 416.83,390.03 417.29,390.6 417.76,390.96 418.23,390.7 418.71,391.12 419.19,390.77 419.67,391.59 420.16,391.76 420.64,391.48 421.14,392.33 421.63,392.1 422.13,391.83 422.63,392.09 423.13,392.8 423.64,392.68 424.14,393.17 424.65,392.68 425.17,393.19 425.68,393.59 426.2,393.34 426.66,393.79 427.13,393.66 427.6,393.94 428.08,394.05 428.56,394.62 429.04,393.89 429.53,394.48 430.02,394.71 430.51,394.22 431,394.6 431.5,395.24 431.99,395.02 432.49,394.13 432.99,394.88 433.49,394.61 433.99,395.18 434.5,395.01 435,395.13 435.5,395.14 436.01,395.49 436.51,395.38 437.01,395.35 437.51,395.58 438.01,395.81 438.51,395.58 439.01,396.13 439.51,395.53 440,396.1 440.51,395.98 441.01,396.52 441.52,396.05 442.03,396.11 442.54,396.01 443.04,396.88 443.55,396.61 444.06,396.25 444.57,396.49 445.07,396.39 445.58,397.05 446.09,396.84 446.6,396.29 447.1,396.89 447.61,397.11 448.12,396.94 448.63,397.1 449.13,397.01 449.64,397.14 450.15,397.19 450.66,397.01 451.16,397.32 451.67,397.33 452.18,397.33 452.69,397.23 453.19,397.2 453.7,397.56" fill="none" stroke="url(#gDTA)" stroke-width="1.15" stroke-linejoin="round" stroke-linecap="round"/>
<polyline points="325.4,280.4 325.51,279.53 325.62,279.27 325.72,279.01 325.83,278.47 325.93,277.8 326.04,277.56 326.15,276.8 326.26,276.32 326.38,276.14 326.5,275.35 326.62,274.88 326.73,274.19 326.85,273.73 326.97,273.17 327.09,272.75 327.22,272 327.35,271.8 327.48,271.1 327.63,270.55 327.77,270.05 327.93,269.73 328.1,269.38 328.33,268.57 328.57,268.23 328.83,267.67 329.09,267.12 329.37,266.53 329.67,265.93 330,265.88 330.58,265.44 331.22,265.39 331.9,265.18 332.35,265.48 332.82,265.72 333.31,265.84 333.81,266.29 334.33,266.79 334.86,266.97 335.4,267.22 335.79,267.84 336.18,267.58 336.59,268.02 337,268.48 337.42,268.69 337.84,268.82 338.26,269.45 338.69,269.86 339.12,270.02 339.54,270.64 339.97,270.87 340.39,271.3 340.8,271.32 341.19,271.82 341.59,272.34 341.98,272.73 342.38,272.99 342.78,273.18 343.17,273.55 343.57,273.8 343.96,274.34 344.35,274.48 344.73,274.91 345.11,274.99 345.48,275.39 345.84,276.09 346.2,276.21 346.61,276.58 347,276.64 347.38,277.22 347.75,277.79 348.12,277.69 348.49,277.91 348.85,278.5 349.23,278.8 349.61,279.2 350,279.45 350.32,279.76 350.64,280.1 350.96,280.65 351.29,280.9 351.61,281.35 351.94,281.47 352.27,282.02 352.6,282.27 352.94,282.7 353.28,283.18 353.63,283.46 353.99,283.81 354.35,284.06 354.72,284.68 355.1,285.19 355.39,285.36 355.69,285.77 356,285.92 356.31,286.34 356.63,286.92 356.95,287.4 357.27,287.6 357.6,287.84 357.93,288.39 358.27,288.66 358.6,289.22 358.95,289.89 359.29,290.12 359.64,290.48 359.98,291.04 360.33,291.29 360.68,291.79 361.04,292.19 361.39,292.63 361.74,292.82 362.09,293.48 362.45,293.9 362.8,293.92 363.15,294.26 363.5,294.86 363.85,295.51 364.2,295.7 364.57,296.16 364.93,296.53 365.3,296.95 365.68,297.15 366.05,297.54 366.42,298.03 366.8,298.44 367.17,298.81 367.55,299.15 367.93,299.43 368.31,299.98 368.68,300.27 369.06,300.7 369.44,300.62 369.82,301.39 370.2,301.32 370.58,301.96 370.95,302.18 371.33,302.59 371.71,302.82 372.08,303.14 372.46,303.48 372.83,303.78 373.2,303.91 373.67,304.03 374.13,304.56 374.58,305.02 375.02,305.16 375.46,305.6 375.9,305.78 376.34,305.97 376.79,306.47 377.24,306.76 377.71,306.77 378.19,306.98 378.68,307.28 379.2,307.17 379.74,307.37 380.3,307.73 380.71,307.78 381.14,307.67 381.57,307.69 382.01,307.86 382.47,307.67 382.93,307.79 383.4,307.82 383.88,307.55 384.36,307.89 384.86,307.89 385.36,307.89 385.87,307.55 386.38,307.52 386.9,307.52 387.42,307.4 387.95,307.73 388.48,307.3 389.01,307.3 389.55,307.28 390.09,307.23 390.63,307.27 391.18,306.88 391.72,307.02 392.27,306.85 392.82,306.6 393.36,306.67 393.91,306.4 394.46,306.68 395,306.31 395.47,306.45 395.94,306.41 396.41,306.1 396.9,305.98 397.38,306.01 397.87,305.78 398.36,305.91 398.86,305.73 399.36,305.51 399.86,305.41 400.37,305.47 400.88,305.1 401.39,305.36 401.9,304.95 402.41,304.9 402.93,304.7 403.44,304.88 403.96,304.66 404.48,304.6 404.99,304.39 405.51,304.2 406.03,304.27 406.55,304.02 407.06,303.87 407.58,303.76 408.09,303.66 408.6,303.48 409.11,303.3 409.62,303.01 410.13,303.33 410.63,302.81 411.13,302.59 411.63,302.64 412.12,302.85 412.61,302.65 413.1,302.33 413.58,302.33 414.06,302.19 414.53,301.86 415,301.96 415.53,301.93 416.05,301.93 416.57,301.54 417.08,301.32 417.58,301.3 418.08,301.43 418.57,301.3 419.06,301.22 419.55,301.12 420.03,300.97 420.51,300.76 420.99,300.89 421.47,300.79 421.95,300.72 422.43,300.72 422.9,300.33 423.38,300.11 423.86,300.1 424.35,300.48 424.84,300.03 425.33,300.1 425.82,299.97 426.32,299.97 426.82,300.19 427.34,299.66 427.85,299.62 428.38,299.48 428.91,299.5 429.45,299.45 430,299.18 430.45,299.39 430.9,299.3 431.36,299.15 431.82,299.02 432.29,298.94 432.75,298.7 433.23,298.91 433.71,298.65 434.19,298.64 434.67,298.76 435.16,298.46 435.65,298.45 436.14,298.55 436.63,298.61 437.13,298.24 437.63,298.39 438.13,298.11 438.64,298.18 439.15,298.13 439.65,297.87 440.16,298.07 440.68,298.1 441.19,297.83 441.7,297.79 442.22,297.56 442.73,297.85 443.25,297.58 443.77,297.36 444.29,297.54 444.8,297.21 445.32,297.25 445.84,297.01 446.36,297.37 446.87,297.41 447.39,297.01 447.91,296.94 448.42,296.89 448.94,296.83 449.45,296.9 449.96,296.95 450.47,296.59 450.98,296.7 451.49,296.37 452,296.71 452.5,296.45 453,296.32" fill="none" stroke="#555" stroke-width="1.1" stroke-linejoin="round" stroke-linecap="round"/>
<text x="460.1" y="277.2" font-size="10.4" font-weight="bold" text-anchor="start" fill="#000" textLength="48.6" lengthAdjust="spacingAndGlyphs">2 µM ADP</text>
<text x="460" y="289.9" font-size="10.6" font-weight="normal" text-anchor="start" fill="#000" stroke="#000" stroke-width="0.4" textLength="52.4" lengthAdjust="spacingAndGlyphs">(1.7±2.1%)</text>
<text x="449.2" y="309.7" font-size="10.4" font-weight="bold" text-anchor="start" fill="#000" textLength="67.4" lengthAdjust="spacingAndGlyphs">25 mU/mLThr</text>
<text x="463.6" y="321" font-size="10.6" font-weight="normal" text-anchor="start" fill="#000" stroke="#000" stroke-width="0.4" textLength="40.8" lengthAdjust="spacingAndGlyphs">(22±3%)</text>
<text x="450.6" y="391.3" font-size="10.4" font-weight="bold" text-anchor="start" fill="#000" textLength="50.8" lengthAdjust="spacingAndGlyphs">25 mU/mL</text>
<text x="503.2" y="391.3" font-size="10.4" font-weight="bold" text-anchor="start" fill="#000" textLength="18" lengthAdjust="spacingAndGlyphs">Thr</text>
<text x="454.6" y="403.5" font-size="10.4" font-weight="bold" text-anchor="start" fill="#000" textLength="58.4" lengthAdjust="spacingAndGlyphs">+ 2 µM ADP</text>
<text x="460" y="416.9" font-size="10.6" font-weight="normal" text-anchor="start" fill="#000" stroke="#000" stroke-width="0.4" textLength="48.8" lengthAdjust="spacingAndGlyphs">(71±4.4%)</text>
</g></svg>
</body></html>
